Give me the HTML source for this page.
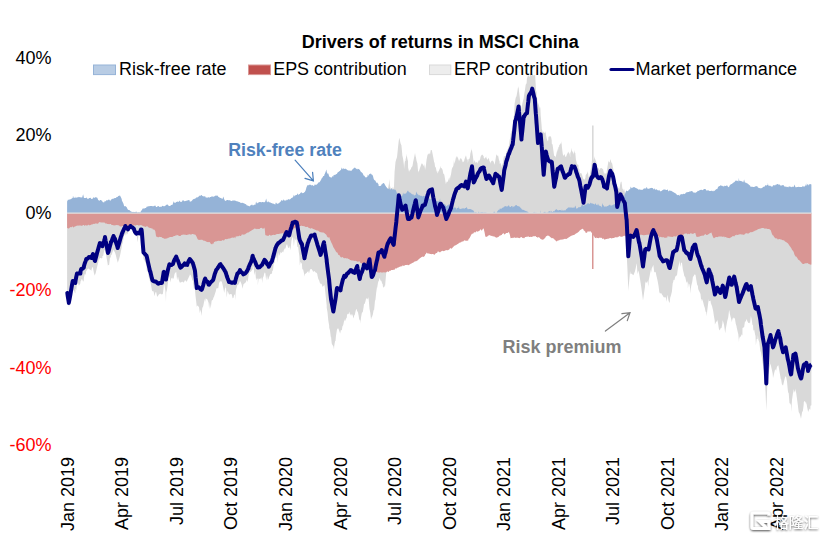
<!DOCTYPE html>
<html><head><meta charset="utf-8"><title>Drivers of returns in MSCI China</title>
<style>
html,body{margin:0;padding:0;background:#fff;}
body{width:825px;height:538px;overflow:hidden;font-family:"Liberation Sans","Noto Sans CJK SC",sans-serif;}
svg{display:block}
.ax{font-size:18px;font-family:"Liberation Sans",sans-serif;}
.lg{font-size:18px;font-family:"Liberation Sans",sans-serif;fill:#000}
</style></head><body>
<svg width="825" height="538" viewBox="0 0 825 538">
<rect width="825" height="538" fill="#fff"/>
<path d="M67.1,299.8 L67.3,295.5 L67.9,301.2 L68.8,306.5 L68.8,307.3 L69.6,304.8 L70.5,298.8 L71.3,296.0 L72.1,290.9 L72.7,288.0 L73.0,291.2 L73.8,289.8 L74.7,292.4 L75.3,293.5 L75.5,288.6 L76.3,290.3 L77.0,282.3 L77.2,282.3 L78.0,282.7 L78.9,285.8 L79.7,284.5 L80.4,283.3 L80.5,281.6 L81.2,280.6 L81.4,279.2 L82.2,279.2 L83.1,281.8 L83.8,280.4 L83.9,277.9 L84.7,274.0 L85.6,274.8 L86.3,269.9 L86.4,271.3 L87.3,269.3 L88.1,268.8 L88.8,268.3 L88.9,268.9 L89.8,269.4 L90.6,269.9 L91.4,270.7 L91.5,269.5 L92.3,267.6 L93.0,267.0 L93.1,268.7 L94.0,273.3 L94.8,275.8 L95.0,274.8 L95.7,272.9 L96.5,269.6 L97.3,266.1 L98.2,262.7 L99.0,257.8 L99.9,259.9 L99.9,258.0 L100.7,258.1 L101.5,258.5 L102.4,257.7 L102.4,256.0 L103.2,255.7 L104.1,250.8 L104.9,249.9 L105.0,250.0 L105.7,252.1 L106.6,258.1 L107.4,262.3 L107.9,265.8 L108.3,265.0 L109.1,265.0 L109.9,258.2 L110.8,257.1 L110.9,253.9 L111.6,255.6 L112.5,252.0 L113.3,250.2 L113.5,249.4 L114.1,250.9 L115.0,252.4 L115.8,255.1 L116.7,258.7 L117.5,261.6 L117.7,262.8 L118.3,261.2 L119.2,258.5 L120.0,255.8 L120.9,251.2 L121.7,247.5 L121.9,244.9 L122.5,243.5 L123.4,239.3 L124.2,234.5 L125.1,235.5 L125.3,232.3 L125.9,235.8 L126.7,232.8 L127.6,234.6 L127.9,232.4 L128.4,230.9 L129.3,230.3 L130.1,229.8 L130.4,229.1 L130.9,228.7 L131.8,228.5 L132.6,229.2 L133.5,230.0 L133.8,230.8 L134.3,231.9 L135.1,233.7 L136.0,235.5 L136.4,236.0 L136.8,236.3 L137.7,242.3 L138.5,234.4 L138.9,234.9 L139.3,236.1 L140.2,233.7 L141.0,233.0 L141.5,234.0 L141.9,238.7 L142.7,249.6 L143.5,258.8 L143.5,259.2 L144.4,260.1 L145.2,262.6 L146.1,263.8 L146.5,264.6 L146.9,272.2 L147.7,270.1 L148.6,276.3 L149.4,278.8 L149.9,281.1 L150.3,281.7 L151.1,285.2 L151.9,290.2 L152.5,291.4 L152.8,291.1 L153.6,291.5 L154.5,296.3 L155.3,292.7 L156.1,291.8 L157.0,296.1 L157.8,296.7 L158.4,295.1 L158.7,294.7 L159.5,294.0 L160.3,293.6 L161.2,294.6 L161.8,293.9 L162.0,294.4 L162.9,293.8 L163.7,286.9 L163.9,283.4 L164.5,285.2 L165.4,290.7 L166.0,302.3 L166.2,292.6 L167.1,289.3 L167.9,282.9 L168.7,278.5 L169.4,275.9 L169.6,276.4 L170.4,282.5 L171.3,277.7 L172.1,278.7 L172.8,277.2 L172.9,279.5 L173.8,277.7 L174.6,273.8 L175.5,272.6 L176.2,271.9 L176.3,272.3 L177.1,280.2 L178.0,276.5 L178.8,280.0 L179.7,282.6 L180.5,282.6 L181.3,282.2 L182.2,281.6 L183.0,282.2 L183.9,282.5 L184.7,280.6 L185.5,280.3 L186.4,281.8 L187.2,281.0 L187.3,280.2 L188.1,278.8 L188.9,277.0 L189.7,275.3 L189.8,274.5 L190.6,274.9 L191.4,276.8 L192.3,280.3 L193.1,280.8 L193.2,289.4 L193.9,283.8 L194.8,287.5 L195.0,290.5 L195.6,296.8 L196.5,303.9 L196.7,306.8 L197.3,305.6 L198.1,306.1 L199.0,307.2 L199.8,313.0 L200.7,309.6 L201.5,316.1 L201.8,313.1 L202.3,308.0 L203.2,306.3 L204.0,302.3 L204.9,298.7 L205.2,301.9 L205.7,298.2 L206.5,299.1 L207.4,299.6 L208.2,301.8 L208.6,302.8 L209.1,309.3 L209.9,302.7 L210.7,308.7 L211.6,301.0 L212.4,299.4 L212.8,300.5 L213.3,297.9 L214.1,296.4 L214.9,293.9 L215.8,291.3 L216.2,289.2 L216.6,288.3 L217.5,288.3 L218.3,288.2 L219.1,283.1 L220.0,281.2 L220.5,281.5 L220.8,281.2 L221.7,281.5 L222.5,284.5 L223.3,288.0 L224.2,292.9 L225.0,288.2 L225.5,288.1 L225.9,285.4 L226.7,297.7 L227.5,290.8 L228.4,292.7 L229.0,294.5 L229.2,294.4 L230.1,294.3 L230.9,294.0 L231.7,294.2 L232.6,298.2 L233.4,298.1 L234.3,294.2 L234.9,294.9 L235.1,300.2 L235.9,290.2 L236.8,286.9 L237.4,284.8 L237.6,284.9 L238.5,284.4 L239.3,282.8 L240.0,280.6 L240.1,281.1 L241.0,282.7 L241.8,285.1 L242.7,288.7 L243.4,284.6 L243.5,284.3 L244.3,283.6 L245.2,282.9 L246.0,281.8 L246.9,279.5 L247.7,282.3 L248.5,276.0 L248.5,275.8 L249.4,272.6 L250.2,271.9 L251.1,271.6 L251.9,270.3 L252.7,269.0 L252.7,265.8 L253.6,267.0 L254.4,275.3 L255.3,271.0 L256.1,280.6 L256.9,278.0 L257.8,279.3 L257.8,285.8 L258.6,278.5 L259.5,278.9 L260.3,278.1 L261.1,279.9 L262.0,276.8 L262.0,283.2 L262.8,277.9 L263.7,276.1 L264.5,271.8 L264.6,273.4 L265.3,272.7 L266.2,280.5 L267.0,275.0 L267.9,280.0 L268.7,278.5 L268.8,277.8 L269.5,276.1 L270.4,274.0 L271.2,274.0 L272.1,273.2 L272.2,270.5 L272.9,270.9 L273.7,264.1 L274.6,262.4 L275.4,256.7 L275.6,258.1 L276.3,258.0 L277.1,253.3 L277.9,263.0 L278.2,256.0 L278.8,252.3 L279.6,255.9 L280.5,252.0 L281.3,253.0 L282.1,252.3 L283.0,251.3 L283.2,252.7 L283.8,250.2 L284.7,248.5 L285.5,248.4 L286.3,245.2 L286.6,244.4 L287.2,244.5 L288.0,247.5 L288.9,248.0 L289.2,248.1 L289.7,245.4 L290.5,250.6 L291.4,241.0 L292.2,238.0 L292.6,236.9 L293.1,237.6 L293.9,246.6 L294.7,238.1 L295.6,240.4 L296.4,238.6 L296.8,241.7 L297.3,247.3 L298.1,246.6 L298.9,252.9 L299.4,256.2 L299.8,265.5 L300.6,261.7 L301.5,263.3 L301.9,263.7 L302.3,269.2 L303.1,269.4 L304.0,273.3 L304.5,276.7 L304.8,274.6 L305.7,273.6 L306.5,273.0 L307.3,271.9 L307.8,271.5 L308.2,271.1 L309.0,273.6 L309.9,269.9 L310.7,269.0 L311.2,268.9 L311.5,269.1 L312.4,270.2 L313.2,272.0 L314.1,271.1 L314.6,271.3 L314.9,271.5 L315.7,272.6 L316.6,272.8 L317.3,274.1 L317.4,275.0 L318.3,278.9 L319.1,280.3 L319.9,282.9 L320.6,283.8 L320.8,283.8 L321.0,284.4 L321.6,283.6 L322.5,287.1 L323.3,285.4 L324.0,286.5 L324.1,284.7 L324.5,285.4 L325.0,289.2 L325.8,296.9 L326.7,305.2 L326.7,307.7 L327.5,312.2 L328.3,320.4 L329.2,325.8 L329.2,327.7 L330.0,330.5 L330.9,337.7 L331.0,336.3 L331.7,343.0 L331.8,343.7 L332.5,345.1 L333.3,346.3 L333.4,346.5 L334.0,349.4 L334.2,346.1 L335.1,341.0 L335.5,340.9 L335.9,336.6 L336.7,331.3 L337.0,329.6 L337.6,328.4 L338.4,328.6 L339.3,331.0 L340.1,333.6 L340.5,331.9 L340.9,329.8 L341.8,330.6 L342.6,325.3 L342.8,326.4 L343.5,323.8 L344.3,320.1 L344.5,321.6 L345.0,318.7 L345.1,321.3 L346.0,318.8 L346.8,317.6 L347.0,315.1 L347.7,313.7 L348.5,314.3 L349.3,311.6 L349.3,311.8 L350.2,315.2 L350.5,313.6 L351.0,316.1 L351.9,313.8 L352.7,315.4 L353.5,318.6 L353.6,318.3 L354.4,314.6 L354.7,315.4 L355.2,312.8 L356.1,309.2 L356.5,308.9 L356.9,309.9 L357.2,312.4 L357.7,310.7 L358.6,315.6 L359.4,320.7 L359.8,319.3 L360.2,320.5 L360.3,323.8 L361.1,317.1 L361.9,312.7 L362.8,311.9 L363.6,307.2 L363.8,305.5 L364.0,304.1 L364.5,303.9 L365.3,301.9 L366.1,298.5 L367.0,298.6 L367.4,299.6 L367.8,298.6 L368.2,297.3 L368.7,299.6 L369.5,308.8 L370.3,312.7 L371.0,319.4 L371.2,318.9 L371.7,317.0 L372.0,316.9 L372.9,314.2 L373.7,309.5 L374.0,310.7 L374.5,306.0 L375.0,300.6 L375.4,300.3 L376.2,292.4 L377.0,287.1 L377.1,288.3 L377.9,283.3 L378.5,281.0 L378.7,281.2 L379.6,278.3 L379.8,277.8 L380.4,280.6 L381.3,280.7 L381.8,282.3 L382.1,283.5 L382.7,284.0 L382.9,286.4 L383.8,287.8 L384.4,286.4 L384.6,284.9 L385.0,286.9 L385.5,281.1 L386.3,272.0 L386.4,273.1 L387.1,271.5 L387.8,188.5 L388.0,189.2 L388.0,188.4 L388.8,184.5 L389.5,179.1 L389.7,183.8 L390.3,187.3 L390.5,187.5 L390.6,188.7 L391.3,187.9 L392.2,189.0 L393.0,186.6 L393.7,188.9 L393.9,189.4 L394.0,186.4 L394.6,171.6 L394.7,170.7 L395.5,161.9 L396.3,159.0 L396.4,158.9 L397.0,157.0 L397.2,155.4 L398.1,146.5 L398.8,140.5 L398.9,140.0 L399.2,137.7 L399.7,139.5 L400.6,143.5 L401.4,145.2 L401.4,145.1 L402.2,153.4 L402.3,155.2 L403.1,158.8 L403.9,165.0 L404.0,169.3 L404.8,161.7 L405.6,160.4 L405.6,159.3 L406.5,155.5 L406.5,153.4 L407.3,158.6 L408.0,161.2 L408.1,167.4 L409.0,171.8 L409.0,172.0 L409.8,169.9 L410.7,169.6 L411.5,167.2 L412.3,166.3 L412.4,166.4 L413.2,161.7 L414.0,158.0 L414.9,153.8 L415.0,152.7 L415.7,156.9 L415.8,156.5 L416.5,160.5 L417.4,163.6 L418.2,173.0 L418.3,171.7 L419.1,170.7 L419.9,168.3 L420.7,166.1 L421.6,163.2 L422.4,164.4 L422.6,162.9 L423.3,166.4 L424.1,164.0 L424.9,168.3 L425.0,170.3 L425.8,166.1 L426.6,159.6 L427.5,155.1 L427.7,154.6 L428.3,154.3 L428.5,154.1 L429.1,152.9 L430.0,154.6 L430.8,150.0 L431.7,150.0 L432.0,150.9 L432.5,153.4 L433.3,157.4 L434.2,162.6 L434.5,162.4 L435.0,166.5 L435.3,167.1 L435.9,167.8 L436.7,172.3 L437.0,170.2 L437.5,173.0 L437.8,173.5 L438.4,171.6 L439.2,170.1 L440.1,167.7 L440.4,165.8 L440.9,168.5 L441.7,168.0 L442.6,170.1 L443.4,174.0 L443.8,173.8 L444.3,174.8 L445.1,179.6 L445.9,184.2 L446.3,182.7 L446.8,181.6 L447.6,182.0 L448.5,179.8 L448.9,178.2 L449.3,177.3 L450.0,180.9 L450.1,178.0 L450.6,175.8 L451.0,174.5 L451.8,169.1 L452.7,167.0 L452.9,166.9 L453.5,165.3 L454.0,159.2 L454.3,164.0 L455.2,161.0 L456.0,157.0 L456.3,156.2 L456.5,158.2 L456.9,156.0 L457.7,157.5 L458.4,159.1 L458.5,161.7 L458.7,159.4 L459.4,161.1 L460.2,157.8 L461.1,159.5 L461.6,158.7 L461.8,157.8 L461.9,159.5 L462.7,162.2 L463.6,162.1 L463.6,161.4 L464.3,160.4 L464.4,159.6 L465.3,157.1 L466.0,155.2 L466.1,155.8 L466.9,159.6 L467.7,159.6 L467.8,162.9 L468.0,162.2 L468.6,159.0 L469.5,158.7 L470.0,156.7 L470.3,153.7 L471.1,150.7 L471.8,149.4 L472.0,147.7 L472.0,150.6 L472.8,155.4 L473.7,162.4 L473.7,161.6 L473.8,163.2 L474.5,160.1 L475.3,162.0 L475.7,162.9 L476.2,162.2 L477.0,162.2 L477.0,161.4 L477.6,163.8 L477.9,162.4 L478.7,160.3 L479.5,160.8 L480.4,158.1 L480.5,156.4 L481.0,156.4 L481.2,155.5 L482.1,154.4 L482.9,155.2 L483.7,156.6 L483.8,158.0 L484.0,158.3 L484.6,158.7 L485.4,156.9 L486.3,158.4 L486.4,156.1 L487.1,160.0 L487.9,159.1 L488.8,157.9 L488.8,157.3 L489.0,158.8 L489.6,161.2 L490.5,162.4 L490.7,163.8 L491.3,161.1 L492.1,160.8 L492.7,160.4 L493.0,161.4 L493.2,161.1 L493.8,162.3 L494.6,164.7 L494.7,164.6 L495.5,159.6 L495.7,158.5 L496.3,154.6 L496.6,154.5 L497.2,156.2 L498.0,154.9 L498.9,159.4 L499.0,161.2 L499.5,160.1 L499.7,163.9 L500.5,162.8 L501.4,166.3 L501.7,167.4 L501.9,164.3 L502.2,164.9 L503.1,162.6 L503.8,155.7 L503.9,158.0 L504.2,155.7 L504.7,156.2 L505.6,155.8 L506.0,154.0 L506.3,154.6 L506.4,151.8 L507.3,150.0 L508.1,148.5 L508.2,149.5 L508.5,146.3 L508.9,146.2 L509.8,139.6 L510.6,136.6 L510.6,134.3 L511.5,131.0 L512.3,130.4 L512.7,128.8 L513.0,125.9 L513.1,121.2 L514.0,115.0 L514.8,101.3 L515.0,103.3 L515.2,100.4 L515.7,97.8 L516.5,96.3 L517.3,91.8 L518.2,86.0 L518.4,88.3 L518.6,87.3 L519.0,91.2 L519.9,98.5 L520.7,107.2 L521.0,110.0 L521.5,107.2 L521.5,107.6 L522.4,103.2 L523.2,100.0 L523.7,98.3 L524.1,95.1 L524.6,92.0 L524.9,90.3 L525.7,84.8 L526.6,83.3 L527.0,77.8 L527.4,77.4 L528.0,74.9 L528.3,75.3 L528.8,76.1 L529.1,77.2 L529.9,76.0 L530.8,72.4 L531.6,76.0 L532.2,74.2 L532.5,73.6 L533.3,75.4 L534.1,75.3 L534.8,75.2 L535.0,74.3 L535.0,73.0 L535.8,86.6 L536.0,90.4 L536.5,91.7 L536.7,95.7 L537.5,101.2 L538.0,102.4 L538.3,103.4 L539.2,106.3 L540.0,108.8 L540.3,106.4 L540.7,115.8 L540.9,117.6 L541.7,127.0 L541.8,128.7 L542.0,129.2 L542.5,132.2 L543.4,131.5 L543.7,132.5 L544.2,132.5 L545.1,133.2 L545.8,131.0 L545.9,134.5 L546.7,138.4 L547.6,141.0 L547.6,141.6 L548.3,140.2 L548.4,137.3 L549.3,135.8 L550.0,137.6 L550.1,136.7 L550.9,136.0 L551.7,140.3 L551.8,143.7 L552.4,144.2 L552.6,144.8 L553.5,151.2 L554.2,156.6 L554.3,155.7 L555.1,156.1 L556.0,157.4 L556.0,155.7 L556.8,151.9 L557.7,148.2 L557.7,152.4 L558.5,146.4 L559.0,147.3 L559.3,144.9 L560.2,144.3 L561.0,142.8 L561.0,144.7 L561.5,140.9 L561.9,147.1 L562.7,153.5 L562.9,154.5 L563.5,155.9 L564.4,154.0 L564.8,155.0 L565.2,156.6 L565.8,157.0 L566.1,156.7 L566.9,154.6 L567.7,152.9 L568.2,151.5 L568.6,152.4 L569.4,153.6 L569.7,154.3 L570.2,157.5 L570.3,153.3 L571.1,151.1 L571.8,147.8 L571.9,150.2 L572.0,150.7 L572.8,152.3 L573.6,154.8 L573.6,153.5 L574.5,150.1 L574.5,152.3 L575.3,153.1 L576.0,160.5 L576.1,160.2 L577.0,163.9 L577.8,164.8 L578.4,164.8 L578.7,169.6 L579.4,169.0 L579.5,172.0 L580.3,173.2 L580.9,173.2 L581.2,172.9 L582.0,174.7 L582.9,177.7 L583.3,178.7 L583.5,179.3 L583.7,179.1 L584.5,179.8 L585.4,177.9 L585.7,175.1 L586.2,174.6 L587.1,173.2 L587.4,171.1 L587.9,173.5 L588.0,172.6 L588.7,177.7 L589.1,176.3 L589.6,175.9 L590.4,171.2 L591.0,168.0 L591.3,167.2 L592.0,159.5 L592.1,159.0 L592.9,158.5 L593.0,158.8 L593.8,160.8 L594.6,155.7 L594.6,157.0 L594.9,158.4 L595.5,160.1 L596.3,162.1 L596.6,165.1 L597.1,164.9 L597.3,168.3 L598.0,168.2 L598.8,168.3 L598.8,168.7 L599.7,170.3 L600.5,167.9 L601.3,168.1 L601.7,168.2 L602.2,168.7 L603.0,168.9 L603.9,172.9 L604.0,174.9 L604.7,172.5 L605.5,173.7 L606.4,173.5 L606.5,173.6 L607.0,169.2 L607.2,168.6 L608.1,163.3 L608.5,160.6 L608.9,161.9 L609.7,162.5 L610.4,158.9 L610.6,159.7 L611.4,162.5 L612.3,163.7 L612.4,164.8 L613.1,168.2 L613.9,172.6 L614.3,177.3 L614.8,179.7 L615.6,183.3 L616.3,187.7 L616.5,189.0 L617.2,186.7 L617.3,189.5 L618.1,187.8 L619.0,188.5 L619.2,189.8 L619.8,186.9 L620.6,181.2 L620.7,184.0 L620.9,182.0 L621.5,181.6 L622.3,188.3 L623.0,189.4 L623.2,191.3 L624.0,188.6 L624.9,192.7 L624.9,192.2 L625.0,192.4 L625.7,242.9 L626.5,254.4 L626.6,252.7 L627.4,268.6 L628.2,287.6 L628.3,291.1 L629.1,282.1 L629.9,273.3 L630.0,271.0 L630.7,274.3 L631.6,273.4 L632.4,274.4 L633.3,275.1 L633.4,275.5 L634.1,273.6 L634.9,271.6 L635.8,267.8 L636.6,263.7 L636.8,263.6 L637.5,274.2 L638.3,270.5 L639.1,273.5 L639.3,274.7 L640.0,279.0 L640.8,284.0 L641.7,290.2 L642.5,296.6 L643.0,300.4 L643.3,298.5 L644.2,292.0 L645.0,286.7 L645.2,283.5 L645.9,281.2 L646.7,283.3 L647.5,280.7 L648.4,286.8 L648.6,280.7 L649.2,278.0 L650.1,273.4 L650.9,269.6 L651.2,272.8 L651.7,268.6 L652.6,266.7 L653.4,264.8 L653.4,265.4 L654.3,272.5 L655.1,271.7 L655.9,272.8 L656.3,275.3 L656.8,277.2 L657.6,280.8 L658.5,285.7 L659.3,292.1 L659.7,293.1 L660.1,293.7 L661.0,292.8 L661.8,294.2 L662.7,295.6 L663.0,296.1 L663.5,297.1 L664.3,297.6 L665.2,297.1 L666.0,298.1 L666.9,301.7 L667.3,294.7 L667.7,295.9 L668.5,300.5 L669.4,302.9 L669.8,301.8 L670.2,297.8 L671.1,295.1 L671.9,291.4 L672.7,283.3 L673.2,282.0 L673.6,279.7 L674.4,280.3 L675.3,276.5 L676.1,275.9 L676.6,275.1 L676.9,276.1 L677.8,269.1 L678.6,265.5 L679.2,263.0 L679.5,260.2 L680.3,267.0 L681.1,262.2 L681.7,263.1 L682.0,263.0 L682.8,269.3 L683.7,272.9 L684.3,275.9 L684.5,276.2 L685.3,277.3 L686.2,281.4 L687.0,283.0 L687.7,281.1 L687.9,288.4 L688.7,283.2 L689.5,284.6 L690.2,288.4 L690.4,293.7 L691.2,285.9 L692.1,282.6 L692.6,279.6 L692.9,277.0 L693.7,275.9 L694.6,274.3 L695.2,274.9 L695.4,274.2 L696.3,279.8 L697.1,284.6 L697.9,286.1 L698.2,288.9 L698.8,290.5 L699.6,292.0 L700.5,293.9 L701.3,301.8 L701.5,299.1 L702.1,299.3 L703.0,301.5 L703.8,304.7 L704.7,307.8 L704.7,307.3 L705.5,311.5 L706.3,312.3 L706.7,316.2 L707.2,311.0 L708.0,304.5 L708.8,298.7 L708.9,301.2 L709.7,301.1 L710.5,300.6 L711.3,306.6 L711.4,303.2 L712.2,306.7 L713.1,310.6 L713.9,316.1 L714.7,320.5 L714.9,324.6 L715.6,323.1 L716.4,321.3 L717.0,321.7 L717.3,319.6 L718.1,323.5 L718.9,329.1 L719.8,330.4 L720.3,328.9 L720.6,328.2 L721.5,328.0 L722.3,324.0 L722.7,320.3 L723.1,321.6 L724.0,324.6 L724.8,330.2 L725.2,333.2 L725.7,329.5 L726.5,325.1 L727.3,320.7 L728.2,317.6 L729.0,311.1 L729.3,309.9 L729.9,314.0 L730.7,317.2 L731.5,320.2 L731.7,322.2 L732.4,319.2 L733.2,317.3 L734.1,318.9 L734.2,317.8 L734.9,318.5 L735.7,323.4 L736.6,326.6 L736.6,327.0 L737.4,330.6 L738.3,334.2 L739.0,342.6 L739.1,338.9 L739.9,336.4 L740.8,336.8 L741.6,334.3 L742.4,335.6 L742.5,328.1 L743.3,327.5 L744.1,327.3 L745.0,321.3 L745.8,321.8 L746.5,318.7 L746.7,319.6 L747.5,321.6 L748.3,323.1 L748.6,323.1 L749.2,322.5 L750.0,323.4 L750.9,315.5 L750.9,315.9 L751.7,319.4 L752.5,325.3 L753.0,324.8 L753.4,330.8 L754.2,329.8 L755.1,334.4 L755.5,336.0 L755.9,345.3 L756.7,338.9 L757.6,339.1 L757.9,335.2 L758.4,339.7 L759.3,342.3 L760.1,348.9 L760.4,351.0 L760.9,352.2 L761.8,357.1 L762.6,362.9 L762.8,363.7 L763.5,368.8 L764.3,371.5 L764.5,373.3 L765.1,384.6 L765.6,393.5 L766.0,403.0 L766.3,410.4 L766.8,398.3 L767.7,373.9 L767.7,374.1 L768.5,373.7 L769.3,369.1 L770.2,364.8 L770.5,363.4 L771.0,366.0 L771.9,370.0 L772.7,373.8 L773.0,378.0 L773.5,375.9 L774.4,372.3 L775.2,369.1 L775.4,369.4 L776.1,370.8 L776.9,367.1 L777.7,365.8 L778.4,365.2 L778.6,366.3 L779.4,371.2 L780.3,376.0 L780.8,379.2 L781.1,378.9 L781.9,384.3 L782.8,385.2 L783.0,385.8 L783.6,383.2 L784.5,379.3 L785.3,376.2 L785.7,376.7 L786.1,376.8 L787.0,381.6 L787.8,390.1 L788.2,392.6 L788.7,393.2 L789.5,403.2 L790.3,403.4 L791.0,405.3 L791.2,412.0 L792.0,400.0 L792.9,393.4 L793.4,391.8 L793.7,389.1 L794.5,392.8 L795.4,388.5 L795.5,390.4 L796.2,392.7 L797.1,399.5 L797.9,405.4 L798.0,406.6 L798.7,412.1 L799.6,413.6 L800.4,416.3 L801.0,418.7 L801.3,417.0 L802.1,412.2 L802.9,410.8 L803.7,404.5 L803.8,401.9 L804.6,401.0 L805.5,402.1 L806.2,404.2 L806.3,402.1 L807.1,406.9 L808.0,411.2 L808.0,412.3 L808.8,410.2 L809.7,408.4 L810.3,409.9 L810.5,405.8 L811.4,405.3 L811.4,213.1 L67.1,213.1Z" fill="#d9d9d9"/>
<rect x="592" y="125.5" width="1.6" height="40" fill="#d9d9d9"/>
<path d="M67.1,228.3 L67.3,228.3 L67.9,228.1 L68.8,228.7 L68.8,228.7 L69.6,227.8 L70.5,227.0 L71.3,227.3 L72.1,227.1 L72.7,225.9 L73.0,227.5 L73.8,227.3 L74.7,226.5 L75.3,226.4 L75.5,226.3 L76.3,226.1 L77.0,225.5 L77.2,225.5 L78.0,225.7 L78.9,225.4 L79.7,225.4 L80.4,225.4 L80.5,225.4 L81.2,225.7 L81.4,225.7 L82.2,225.7 L83.1,225.0 L83.8,224.9 L83.9,224.9 L84.7,226.0 L85.6,224.9 L86.3,225.6 L86.4,225.6 L87.3,225.5 L88.1,224.9 L88.8,224.6 L88.9,225.2 L89.8,225.2 L90.6,224.9 L91.4,224.6 L91.5,224.6 L92.3,224.4 L93.0,224.0 L93.1,224.0 L94.0,223.8 L94.8,224.0 L95.0,223.6 L95.7,223.5 L96.5,223.4 L97.3,223.7 L98.2,223.5 L99.0,222.3 L99.9,222.1 L99.9,222.4 L100.7,222.2 L101.5,222.4 L102.4,222.5 L102.4,222.5 L103.2,222.4 L104.1,222.6 L104.9,222.8 L105.0,223.3 L105.7,223.4 L106.6,223.6 L107.4,224.0 L107.9,224.0 L108.3,224.1 L109.1,224.3 L109.9,223.9 L110.8,224.0 L110.9,224.0 L111.6,225.0 L112.5,225.1 L113.3,225.2 L113.5,225.3 L114.1,225.4 L115.0,225.2 L115.8,225.3 L116.7,225.0 L117.5,225.1 L117.7,225.2 L118.3,225.3 L119.2,225.4 L120.0,226.6 L120.9,226.4 L121.7,226.4 L121.9,225.9 L122.5,225.9 L123.4,225.9 L124.2,225.3 L125.1,225.3 L125.3,225.3 L125.9,226.1 L126.7,226.1 L127.6,226.1 L127.9,225.6 L128.4,226.2 L129.3,225.3 L130.1,225.3 L130.4,225.3 L130.9,225.6 L131.8,225.6 L132.6,225.6 L133.5,225.2 L133.8,225.2 L134.3,225.2 L135.1,225.5 L136.0,225.5 L136.4,224.9 L136.8,224.9 L137.7,224.9 L138.5,225.4 L138.9,225.4 L139.3,225.4 L140.2,225.0 L141.0,225.2 L141.5,225.3 L141.9,225.2 L142.7,226.1 L143.5,226.3 L143.5,226.3 L144.4,226.4 L145.2,226.7 L146.1,226.9 L146.5,226.1 L146.9,226.2 L147.7,226.4 L148.6,227.5 L149.4,227.8 L149.9,228.0 L150.3,228.1 L151.1,228.3 L151.9,228.5 L152.5,228.6 L152.8,229.4 L153.6,229.6 L154.5,229.7 L155.3,231.3 L156.1,236.6 L157.0,236.7 L157.8,237.2 L158.4,237.3 L158.7,237.3 L159.5,236.8 L160.3,237.0 L161.2,237.1 L161.8,237.3 L162.0,237.7 L162.9,238.0 L163.7,238.2 L163.9,238.5 L164.5,238.7 L165.4,238.7 L166.0,238.5 L166.2,238.6 L167.1,238.4 L167.9,237.7 L168.7,237.8 L169.4,237.6 L169.6,237.1 L170.4,236.9 L171.3,237.1 L172.1,236.9 L172.8,236.7 L172.9,236.7 L173.8,236.1 L174.6,235.9 L175.5,235.7 L176.2,234.4 L176.3,235.4 L177.1,235.2 L178.0,235.0 L178.8,236.1 L179.7,236.0 L180.5,236.0 L181.3,234.9 L182.2,234.8 L183.0,234.8 L183.9,234.5 L184.7,234.8 L185.5,234.8 L186.4,235.1 L187.2,235.1 L187.3,234.8 L188.1,234.5 L188.9,234.5 L189.7,234.0 L189.8,234.4 L190.6,234.4 L191.4,234.4 L192.3,234.0 L193.1,233.9 L193.2,233.9 L193.9,234.5 L194.8,234.5 L195.0,234.5 L195.6,234.9 L196.5,236.4 L196.7,237.1 L197.3,238.6 L198.1,239.8 L199.0,239.8 L199.8,239.9 L200.7,239.8 L201.5,239.7 L201.8,239.8 L202.3,239.8 L203.2,240.6 L204.0,240.7 L204.9,240.8 L205.2,240.9 L205.7,241.2 L206.5,241.7 L207.4,242.1 L208.2,242.3 L208.6,241.9 L209.1,242.1 L209.9,242.2 L210.7,243.8 L211.6,244.2 L212.4,244.2 L212.8,243.3 L213.3,244.1 L214.1,242.1 L214.9,241.7 L215.8,241.3 L216.2,241.5 L216.6,241.2 L217.5,241.0 L218.3,240.8 L219.1,240.7 L220.0,241.0 L220.5,240.8 L220.8,240.9 L221.7,240.8 L222.5,240.1 L223.3,240.4 L224.2,240.2 L225.0,239.2 L225.5,239.1 L225.9,239.1 L226.7,239.2 L227.5,239.0 L228.4,238.5 L229.0,238.7 L229.2,238.6 L230.1,238.4 L230.9,238.1 L231.7,237.8 L232.6,237.6 L233.4,237.7 L234.3,237.4 L234.9,237.3 L235.1,238.5 L235.9,236.3 L236.8,236.5 L237.4,236.3 L237.6,236.2 L238.5,236.3 L239.3,235.8 L240.0,235.6 L240.1,236.1 L241.0,235.9 L241.8,234.6 L242.7,234.4 L243.4,234.2 L243.5,234.9 L244.3,234.6 L245.2,234.3 L246.0,233.5 L246.9,232.9 L247.7,232.4 L248.5,232.6 L248.5,232.5 L249.4,231.7 L250.2,231.2 L251.1,230.7 L251.9,230.2 L252.7,229.7 L252.7,229.7 L253.6,229.2 L254.4,228.6 L255.3,228.8 L256.1,228.7 L256.9,229.3 L257.8,228.8 L257.8,228.8 L258.6,229.0 L259.5,228.9 L260.3,228.0 L261.1,227.9 L262.0,227.7 L262.0,228.5 L262.8,228.5 L263.7,228.4 L264.5,228.3 L264.6,227.0 L265.3,235.0 L266.2,235.6 L267.0,235.5 L267.9,236.1 L268.7,236.0 L268.8,234.9 L269.5,234.8 L270.4,235.5 L271.2,235.4 L272.1,235.3 L272.2,234.9 L272.9,234.9 L273.7,234.8 L274.6,235.1 L275.4,234.9 L275.6,234.4 L276.3,234.3 L277.1,234.0 L277.9,233.9 L278.2,234.0 L278.8,233.9 L279.6,233.7 L280.5,233.5 L281.3,233.4 L282.1,233.2 L283.0,233.0 L283.2,233.7 L283.8,233.6 L284.7,232.8 L285.5,232.3 L286.3,231.8 L286.6,231.8 L287.2,232.1 L288.0,231.7 L288.9,230.2 L289.2,230.0 L289.7,230.8 L290.5,230.5 L291.4,230.1 L292.2,229.7 L292.6,229.7 L293.1,229.5 L293.9,228.4 L294.7,227.9 L295.6,227.4 L296.4,227.1 L296.8,227.3 L297.3,227.1 L298.1,227.3 L298.9,226.4 L299.4,226.3 L299.8,226.1 L300.6,225.9 L301.5,225.6 L301.9,226.0 L302.3,226.1 L303.1,226.1 L304.0,226.3 L304.5,226.3 L304.8,226.4 L305.7,226.9 L306.5,226.9 L307.3,226.7 L307.8,226.9 L308.2,227.6 L309.0,227.9 L309.9,228.3 L310.7,228.7 L311.2,228.1 L311.5,228.3 L312.4,228.6 L313.2,228.9 L314.1,229.2 L314.6,229.4 L314.9,229.7 L315.7,230.0 L316.6,230.4 L317.3,230.4 L317.4,230.5 L318.3,230.8 L319.1,231.6 L319.9,231.9 L320.6,232.1 L320.8,232.4 L321.0,232.5 L321.6,232.3 L322.5,232.6 L323.3,232.6 L324.0,232.8 L324.1,233.3 L324.5,233.0 L325.0,233.8 L325.8,234.3 L326.7,235.2 L326.7,236.0 L327.5,236.9 L328.3,237.7 L329.2,237.1 L329.2,237.1 L330.0,239.4 L330.9,241.4 L331.0,241.8 L331.7,243.4 L331.8,243.3 L332.5,245.1 L333.3,246.9 L333.4,247.2 L334.0,248.2 L334.2,248.5 L335.1,250.1 L335.5,250.7 L335.9,251.4 L336.7,252.5 L337.0,252.2 L337.6,253.0 L338.4,254.9 L339.3,255.1 L340.1,256.3 L340.5,257.0 L340.9,257.2 L341.8,257.4 L342.6,257.0 L342.8,257.1 L343.5,257.9 L344.3,258.2 L344.5,257.9 L345.0,258.6 L345.1,258.0 L346.0,258.2 L346.8,258.5 L347.0,258.2 L347.7,258.6 L348.5,258.9 L349.3,259.1 L349.3,259.6 L350.2,259.9 L350.5,260.1 L351.0,260.2 L351.9,260.4 L352.7,260.6 L353.5,260.3 L353.6,261.0 L354.4,261.1 L354.7,260.7 L355.2,260.8 L356.1,261.1 L356.5,261.2 L356.9,261.3 L357.2,261.8 L357.7,261.5 L358.6,261.6 L359.4,261.3 L359.8,261.5 L360.2,262.8 L360.3,262.9 L361.1,263.1 L361.9,263.5 L362.8,264.0 L363.6,265.2 L363.8,264.5 L364.0,265.2 L364.5,265.4 L365.3,266.0 L366.1,266.3 L367.0,266.8 L367.4,268.0 L367.8,268.3 L368.2,268.5 L368.7,267.0 L369.5,268.3 L370.3,268.8 L371.0,269.2 L371.2,269.6 L371.7,269.9 L372.0,269.5 L372.9,270.0 L373.7,270.5 L374.0,270.6 L374.5,270.9 L375.0,272.0 L375.4,271.5 L376.2,271.9 L377.0,272.3 L377.1,272.3 L377.9,272.3 L378.5,272.6 L378.7,272.6 L379.6,272.8 L379.8,272.1 L380.4,272.3 L381.3,272.6 L381.8,272.5 L382.1,272.4 L382.7,272.5 L382.9,272.5 L383.8,272.3 L384.4,272.2 L384.6,272.6 L385.0,272.5 L385.5,272.4 L386.3,272.0 L386.4,272.0 L387.1,271.5 L387.8,271.4 L388.0,271.4 L388.0,271.9 L388.8,271.7 L389.5,270.8 L389.7,270.8 L390.3,270.8 L390.5,270.8 L390.6,270.8 L391.3,270.1 L392.2,270.1 L393.0,269.9 L393.7,269.5 L393.9,270.2 L394.0,270.1 L394.6,269.5 L394.7,269.4 L395.5,268.3 L396.3,268.6 L396.4,268.6 L397.0,268.2 L397.2,268.0 L398.1,267.3 L398.8,267.5 L398.9,267.4 L399.2,267.0 L399.7,266.7 L400.6,266.4 L401.4,266.0 L401.4,266.4 L402.2,266.2 L402.3,265.6 L403.1,265.4 L403.9,265.9 L404.0,265.9 L404.8,265.2 L405.6,265.1 L405.6,265.1 L406.5,264.9 L406.5,264.9 L407.3,264.8 L408.0,265.3 L408.1,265.2 L409.0,265.1 L409.0,264.7 L409.8,264.5 L410.7,263.8 L411.5,263.4 L412.3,263.0 L412.4,263.0 L413.2,262.6 L414.0,262.3 L414.9,261.2 L415.0,261.1 L415.7,261.6 L415.8,261.6 L416.5,260.9 L417.4,260.5 L418.2,260.0 L418.3,259.5 L419.1,258.9 L419.9,258.2 L420.7,257.7 L421.6,257.1 L422.4,257.1 L422.6,256.2 L423.3,257.0 L424.1,256.4 L424.9,255.7 L425.0,254.4 L425.8,254.3 L426.6,252.5 L427.5,253.4 L427.7,253.5 L428.3,253.5 L428.5,253.4 L429.1,253.5 L430.0,254.0 L430.8,254.1 L431.7,254.2 L432.0,254.1 L432.5,253.9 L433.3,254.0 L434.2,254.9 L434.5,254.8 L435.0,254.0 L435.3,253.9 L435.9,253.1 L436.7,252.9 L437.0,253.2 L437.5,251.7 L437.8,251.6 L438.4,251.4 L439.2,252.1 L440.1,252.5 L440.4,251.7 L440.9,251.8 L441.7,251.0 L442.6,250.7 L443.4,251.2 L443.8,251.1 L444.3,251.0 L445.1,250.5 L445.9,250.2 L446.3,250.0 L446.8,250.3 L447.6,250.3 L448.5,250.1 L448.9,249.6 L449.3,249.5 L450.0,248.3 L450.1,248.2 L450.6,248.1 L451.0,248.8 L451.8,248.5 L452.7,247.5 L452.9,247.3 L453.5,246.7 L454.0,246.1 L454.3,245.7 L455.2,245.5 L456.0,245.0 L456.3,244.9 L456.5,244.7 L456.9,244.6 L457.7,244.1 L458.4,243.7 L458.5,243.3 L458.7,243.2 L459.4,242.8 L460.2,242.6 L461.1,242.2 L461.6,241.8 L461.8,241.5 L461.9,241.4 L462.7,241.5 L463.6,241.3 L463.6,240.9 L464.3,240.3 L464.4,240.3 L465.3,240.7 L466.0,240.5 L466.1,240.9 L466.9,240.6 L467.7,240.5 L467.8,241.2 L468.0,241.1 L468.6,239.0 L469.5,238.2 L470.0,237.2 L470.3,236.7 L471.1,235.0 L471.8,233.9 L472.0,233.6 L472.0,234.0 L472.8,233.6 L473.7,233.2 L473.7,232.7 L473.8,232.6 L474.5,232.3 L475.3,232.3 L475.7,232.4 L476.2,231.5 L477.0,231.1 L477.0,231.3 L477.6,231.8 L477.9,231.7 L478.7,231.1 L479.5,230.8 L480.4,229.4 L480.5,229.4 L481.0,229.2 L481.2,230.6 L482.1,230.3 L482.9,228.8 L483.7,228.5 L483.8,228.9 L484.0,229.9 L484.6,232.5 L485.4,236.7 L486.3,236.6 L486.4,237.1 L487.1,236.8 L487.9,235.8 L488.8,235.4 L488.8,235.4 L489.0,235.1 L489.6,235.2 L490.5,235.6 L490.7,235.7 L491.3,235.8 L492.1,236.2 L492.7,236.3 L493.0,235.6 L493.2,236.7 L493.8,236.3 L494.6,236.4 L494.7,237.0 L495.5,237.2 L495.7,237.2 L496.3,237.6 L496.6,237.7 L497.2,237.4 L498.0,237.1 L498.9,236.8 L499.0,236.3 L499.5,236.0 L499.7,235.4 L500.5,235.6 L501.4,235.1 L501.7,234.9 L501.9,234.8 L502.2,233.9 L503.1,233.5 L503.8,233.1 L503.9,234.1 L504.2,234.5 L504.7,234.2 L505.6,233.8 L506.0,233.1 L506.3,233.0 L506.4,233.0 L507.3,233.0 L508.1,232.7 L508.2,232.7 L508.5,232.0 L508.9,231.9 L509.8,234.6 L510.6,238.2 L510.6,238.2 L511.5,238.1 L512.3,237.9 L512.7,237.5 L513.0,238.4 L513.1,238.0 L514.0,237.6 L514.8,237.6 L515.0,237.6 L515.2,237.9 L515.7,237.7 L516.5,237.7 L517.3,237.6 L518.2,237.9 L518.4,237.8 L518.6,237.8 L519.0,238.2 L519.9,238.1 L520.7,237.2 L521.0,236.9 L521.5,236.9 L521.5,236.9 L522.4,237.9 L523.2,237.8 L523.7,238.2 L524.1,238.2 L524.6,238.1 L524.9,236.9 L525.7,236.9 L526.6,236.8 L527.0,236.7 L527.4,236.7 L528.0,236.5 L528.3,236.5 L528.8,236.5 L529.1,236.9 L529.9,236.9 L530.8,236.7 L531.6,237.1 L532.2,237.1 L532.5,236.4 L533.3,236.3 L534.1,236.3 L534.8,236.3 L535.0,236.3 L535.0,236.3 L535.8,236.0 L536.0,237.1 L536.5,237.0 L536.7,237.0 L537.5,237.4 L538.0,237.8 L538.3,237.1 L539.2,237.5 L540.0,237.9 L540.3,239.0 L540.7,238.7 L540.9,239.0 L541.7,239.4 L541.8,239.5 L542.0,239.5 L542.5,239.8 L543.4,239.6 L543.7,239.3 L544.2,238.8 L545.1,238.0 L545.8,236.7 L545.9,236.6 L546.7,236.1 L547.6,235.4 L547.6,235.4 L548.3,235.9 L548.4,235.6 L549.3,236.1 L550.0,237.0 L550.1,237.1 L550.9,237.5 L551.7,238.4 L551.8,237.7 L552.4,238.1 L552.6,238.2 L553.5,238.5 L554.2,238.9 L554.3,239.4 L555.1,239.9 L556.0,240.9 L556.0,240.9 L556.8,241.4 L557.7,240.6 L557.7,240.6 L558.5,240.4 L559.0,240.3 L559.3,240.2 L560.2,239.5 L561.0,240.0 L561.0,240.1 L561.5,239.6 L561.9,239.5 L562.7,239.5 L562.9,239.5 L563.5,239.3 L564.4,238.9 L564.8,238.8 L565.2,238.7 L565.8,239.0 L566.1,238.9 L566.9,238.7 L567.7,237.9 L568.2,237.7 L568.6,237.6 L569.4,237.0 L569.7,236.8 L570.2,236.6 L570.3,236.3 L571.1,235.9 L571.8,235.5 L571.9,235.4 L572.0,235.5 L572.8,235.3 L573.6,234.9 L573.6,234.9 L574.5,234.7 L574.5,234.7 L575.3,234.1 L576.0,233.5 L576.1,233.4 L577.0,233.1 L577.8,232.5 L578.4,232.1 L578.7,231.7 L579.4,231.1 L579.5,230.7 L580.3,230.1 L580.9,229.8 L581.2,229.6 L582.0,229.0 L582.9,228.7 L583.3,229.1 L583.5,230.7 L583.7,230.0 L584.5,230.9 L585.4,231.7 L585.7,232.9 L586.2,232.8 L587.1,232.7 L587.4,231.5 L587.9,231.4 L588.0,231.4 L588.7,231.5 L589.1,231.6 L589.6,231.4 L590.4,231.2 L591.0,231.7 L591.3,232.2 L592.0,233.3 L592.1,233.6 L592.9,234.5 L593.0,234.9 L593.8,236.1 L594.6,236.9 L594.6,237.3 L594.9,237.7 L595.5,238.1 L596.3,238.3 L596.6,237.2 L597.1,237.9 L597.3,237.9 L598.0,238.0 L598.8,238.3 L598.8,238.3 L599.7,237.6 L600.5,237.7 L601.3,237.9 L601.7,237.5 L602.2,238.9 L603.0,238.6 L603.9,238.8 L604.0,239.4 L604.7,239.5 L605.5,239.3 L606.4,239.1 L606.5,239.1 L607.0,239.0 L607.2,238.8 L608.1,238.7 L608.5,238.6 L608.9,238.7 L609.7,238.1 L610.4,238.0 L610.6,238.1 L611.4,238.5 L612.3,237.9 L612.4,238.2 L613.1,238.1 L613.9,237.9 L614.3,237.7 L614.8,237.4 L615.6,237.3 L616.3,236.9 L616.5,237.6 L617.2,237.5 L617.3,237.4 L618.1,236.6 L619.0,236.9 L619.2,236.2 L619.8,236.1 L620.6,236.8 L620.7,236.8 L620.9,236.8 L621.5,236.7 L622.3,236.7 L623.0,236.2 L623.2,236.2 L624.0,235.8 L624.9,235.7 L624.9,235.7 L625.0,236.3 L625.7,236.3 L626.5,236.0 L626.6,235.9 L627.4,235.9 L628.2,236.4 L628.3,236.0 L629.1,235.8 L629.9,235.8 L630.0,235.7 L630.7,236.2 L631.6,236.1 L632.4,236.0 L633.3,235.6 L633.4,235.6 L634.1,235.6 L634.9,235.2 L635.8,235.2 L636.6,235.7 L636.8,235.2 L637.5,235.1 L638.3,235.6 L639.1,235.5 L639.3,235.5 L640.0,234.8 L640.8,234.7 L641.7,234.7 L642.5,235.0 L643.0,235.0 L643.3,235.3 L644.2,235.3 L645.0,234.9 L645.2,234.9 L645.9,234.9 L646.7,234.8 L647.5,234.7 L648.4,234.8 L648.6,234.5 L649.2,234.6 L650.1,234.3 L650.9,234.2 L651.2,235.1 L651.7,233.9 L652.6,233.9 L653.4,234.7 L653.4,234.7 L654.3,234.4 L655.1,235.3 L655.9,235.6 L656.3,235.8 L656.8,236.3 L657.6,235.7 L658.5,236.0 L659.3,237.5 L659.7,237.6 L660.1,236.7 L661.0,237.0 L661.8,237.2 L662.7,237.2 L663.0,237.6 L663.5,237.0 L664.3,237.8 L665.2,237.7 L666.0,237.7 L666.9,237.4 L667.3,237.4 L667.7,236.1 L668.5,236.5 L669.4,236.5 L669.8,236.7 L670.2,236.7 L671.1,236.7 L671.9,237.0 L672.7,237.0 L673.2,236.4 L673.6,236.4 L674.4,236.3 L675.3,236.6 L676.1,236.5 L676.6,235.8 L676.9,235.7 L677.8,235.5 L678.6,235.9 L679.2,235.8 L679.5,235.1 L680.3,235.8 L681.1,235.7 L681.7,235.6 L682.0,235.7 L682.8,235.5 L683.7,234.3 L684.3,233.7 L684.5,233.7 L685.3,233.5 L686.2,233.6 L687.0,233.5 L687.7,234.5 L687.9,233.9 L688.7,233.8 L689.5,234.3 L690.2,233.3 L690.4,233.3 L691.2,233.4 L692.1,233.6 L692.6,234.1 L692.9,234.0 L693.7,233.5 L694.6,233.1 L695.2,233.0 L695.4,233.3 L696.3,236.4 L697.1,236.9 L697.9,236.7 L698.2,236.7 L698.8,236.7 L699.6,236.6 L700.5,236.1 L701.3,236.0 L701.5,235.8 L702.1,235.6 L703.0,235.7 L703.8,235.6 L704.7,234.4 L704.7,234.4 L705.5,234.1 L706.3,234.9 L706.7,235.1 L707.2,235.0 L708.0,234.4 L708.8,234.1 L708.9,234.1 L709.7,233.2 L710.5,232.9 L711.3,232.6 L711.4,232.6 L712.2,235.0 L713.1,237.2 L713.9,238.2 L714.7,238.0 L714.9,237.3 L715.6,237.2 L716.4,237.1 L717.0,237.0 L717.3,237.2 L718.1,236.7 L718.9,236.6 L719.8,236.4 L720.3,236.6 L720.6,236.5 L721.5,236.4 L722.3,236.8 L722.7,236.8 L723.1,236.9 L724.0,236.3 L724.8,237.5 L725.2,236.9 L725.7,237.0 L726.5,237.5 L727.3,237.7 L728.2,237.9 L729.0,238.1 L729.3,238.2 L729.9,238.0 L730.7,237.6 L731.5,237.1 L731.7,237.0 L732.4,236.3 L733.2,236.0 L734.1,236.5 L734.2,236.5 L734.9,235.5 L735.7,235.1 L736.6,234.5 L736.6,235.2 L737.4,234.9 L738.3,234.7 L739.0,234.4 L739.1,234.4 L739.9,234.3 L740.8,234.3 L741.6,234.4 L742.4,234.3 L742.5,234.8 L743.3,234.8 L744.1,234.7 L745.0,233.9 L745.8,233.3 L746.5,233.3 L746.7,233.2 L747.5,233.4 L748.3,233.5 L748.6,233.4 L749.2,232.9 L750.0,232.5 L750.9,232.0 L750.9,232.0 L751.7,232.3 L752.5,231.9 L753.0,231.8 L753.4,231.6 L754.2,231.3 L755.1,230.6 L755.5,230.6 L755.9,230.4 L756.7,230.1 L757.6,229.4 L757.9,229.3 L758.4,229.1 L759.3,228.9 L760.1,228.2 L760.4,228.7 L760.9,228.5 L761.8,228.0 L762.6,227.9 L762.8,227.9 L763.5,228.1 L764.3,228.5 L764.5,228.5 L765.1,228.7 L765.6,228.4 L766.0,228.5 L766.3,228.5 L766.8,228.7 L767.7,228.9 L767.7,228.9 L768.5,228.9 L769.3,229.1 L770.2,230.1 L770.5,229.7 L771.0,231.0 L771.9,233.7 L772.7,235.4 L773.0,235.1 L773.5,235.9 L774.4,237.2 L775.2,238.2 L775.4,238.3 L776.1,238.4 L776.9,238.3 L777.7,239.6 L778.4,239.2 L778.6,239.2 L779.4,239.0 L780.3,239.2 L780.8,239.5 L781.1,239.6 L781.9,239.7 L782.8,240.2 L783.0,240.3 L783.6,240.3 L784.5,240.7 L785.3,241.9 L785.7,241.6 L786.1,241.9 L787.0,242.7 L787.8,243.3 L788.2,243.8 L788.7,244.5 L789.5,245.8 L790.3,246.8 L791.0,247.8 L791.2,248.1 L792.0,249.7 L792.9,250.8 L793.4,251.6 L793.7,252.1 L794.5,254.8 L795.4,256.2 L795.5,256.4 L796.2,256.4 L797.1,257.7 L797.9,259.1 L798.0,259.7 L798.7,259.8 L799.6,260.6 L800.4,261.4 L801.0,261.9 L801.3,262.6 L802.1,263.4 L802.9,264.1 L803.7,263.9 L803.8,263.9 L804.6,263.6 L805.5,263.3 L806.2,263.2 L806.3,263.2 L807.1,263.2 L808.0,263.1 L808.0,263.5 L808.8,263.9 L809.7,264.3 L810.3,264.6 L810.5,264.7 L811.4,264.4 L811.4,213.1 L67.1,213.1Z" fill="#d99694"/>
<rect x="592" y="230" width="1.5" height="39" fill="#d99694"/>
<path d="M67.1,201.3 L67.3,201.2 L67.9,199.8 L68.8,199.7 L68.8,199.7 L69.6,199.6 L70.5,199.3 L71.3,199.0 L72.1,198.0 L72.7,198.3 L73.0,195.8 L73.8,198.0 L74.7,197.7 L75.3,196.5 L75.5,198.0 L76.3,197.8 L77.0,197.3 L77.2,197.3 L78.0,197.4 L78.9,196.8 L79.7,197.2 L80.4,197.2 L80.5,197.3 L81.2,197.7 L81.4,197.3 L82.2,197.4 L83.1,194.3 L83.8,196.9 L83.9,198.0 L84.7,198.1 L85.6,197.9 L86.3,198.0 L86.4,197.0 L87.3,198.8 L88.1,198.8 L88.8,198.8 L88.9,198.0 L89.8,198.0 L90.6,197.7 L91.4,199.0 L91.5,199.0 L92.3,199.1 L93.0,197.9 L93.1,197.2 L94.0,197.8 L94.8,197.8 L95.0,197.8 L95.7,197.0 L96.5,197.4 L97.3,197.8 L98.2,200.0 L99.0,200.4 L99.9,200.7 L99.9,199.9 L100.7,200.1 L101.5,200.5 L102.4,200.9 L102.4,201.9 L103.2,202.2 L104.1,202.6 L104.9,200.8 L105.0,200.7 L105.7,201.6 L106.6,199.9 L107.4,200.4 L107.9,199.9 L108.3,199.7 L109.1,199.4 L109.9,200.6 L110.8,200.4 L110.9,200.4 L111.6,199.0 L112.5,198.7 L113.3,199.1 L113.5,198.4 L114.1,198.2 L115.0,198.0 L115.8,198.1 L116.7,197.1 L117.5,196.9 L117.7,196.8 L118.3,196.1 L119.2,195.8 L120.0,195.5 L120.9,197.2 L121.7,198.9 L121.9,200.5 L122.5,201.8 L123.4,203.5 L124.2,206.2 L125.1,206.2 L125.3,205.9 L125.9,206.5 L126.7,207.2 L127.6,209.3 L127.9,209.6 L128.4,210.1 L129.3,210.0 L130.1,210.7 L130.4,211.0 L130.9,211.4 L131.8,211.7 L132.6,211.9 L133.5,211.9 L133.8,211.8 L134.3,212.0 L135.1,212.1 L136.0,211.7 L136.4,211.7 L136.8,211.7 L137.7,212.7 L138.5,212.3 L138.9,212.3 L139.3,212.3 L140.2,212.8 L141.0,211.0 L141.5,210.5 L141.9,210.1 L142.7,208.4 L143.5,208.5 L143.5,208.5 L144.4,208.6 L145.2,207.9 L146.1,207.9 L146.5,206.7 L146.9,206.7 L147.7,206.6 L148.6,206.3 L149.4,206.2 L149.9,206.0 L150.3,206.0 L151.1,206.0 L151.9,205.9 L152.5,206.3 L152.8,206.3 L153.6,206.2 L154.5,205.7 L155.3,205.6 L156.1,207.1 L157.0,207.0 L157.8,206.0 L158.4,206.0 L158.7,206.2 L159.5,206.9 L160.3,206.8 L161.2,206.8 L161.8,206.8 L162.0,205.8 L162.9,206.1 L163.7,206.2 L163.9,206.2 L164.5,206.2 L165.4,205.6 L166.0,205.6 L166.2,204.7 L167.1,204.7 L167.9,204.6 L168.7,205.9 L169.4,205.9 L169.6,206.0 L170.4,205.8 L171.3,205.1 L172.1,204.7 L172.8,204.4 L172.9,203.6 L173.8,201.2 L174.6,203.1 L175.5,202.7 L176.2,202.1 L176.3,202.1 L177.1,201.7 L178.0,201.4 L178.8,201.9 L179.7,200.4 L180.5,201.9 L181.3,201.9 L182.2,201.3 L183.0,199.8 L183.9,201.1 L184.7,201.2 L185.5,201.1 L186.4,200.7 L187.2,200.6 L187.3,200.6 L188.1,200.2 L188.9,200.1 L189.7,200.4 L189.8,201.7 L190.6,201.5 L191.4,201.2 L192.3,200.2 L193.1,199.3 L193.2,199.3 L193.9,199.1 L194.8,198.8 L195.0,198.7 L195.6,198.3 L196.5,197.4 L196.7,197.3 L197.3,197.5 L198.1,196.9 L199.0,196.3 L199.8,195.6 L200.7,195.7 L201.5,194.9 L201.8,194.9 L202.3,196.1 L203.2,196.3 L204.0,196.5 L204.9,196.2 L205.2,196.2 L205.7,197.4 L206.5,197.5 L207.4,197.7 L208.2,197.1 L208.6,197.2 L209.1,198.1 L209.9,197.0 L210.7,196.9 L211.6,196.6 L212.4,196.6 L212.8,196.4 L213.3,196.7 L214.1,196.4 L214.9,196.1 L215.8,195.5 L216.2,195.5 L216.6,195.8 L217.5,195.4 L218.3,196.7 L219.1,197.2 L220.0,197.7 L220.5,198.0 L220.8,198.0 L221.7,198.5 L222.5,198.9 L223.3,196.4 L224.2,199.2 L225.0,200.7 L225.5,200.8 L225.9,200.9 L226.7,199.9 L227.5,200.1 L228.4,200.3 L229.0,200.2 L229.2,200.2 L230.1,200.2 L230.9,201.0 L231.7,200.9 L232.6,200.6 L233.4,200.6 L234.3,200.4 L234.9,200.4 L235.1,200.4 L235.9,200.9 L236.8,201.3 L237.4,201.3 L237.6,201.4 L238.5,201.8 L239.3,202.0 L240.0,202.3 L240.1,202.7 L241.0,202.7 L241.8,203.0 L242.7,202.8 L243.4,203.1 L243.5,203.3 L244.3,203.6 L245.2,203.9 L246.0,204.2 L246.9,205.4 L247.7,205.4 L248.5,206.1 L248.5,205.7 L249.4,206.5 L250.2,205.5 L251.1,205.2 L251.9,204.6 L252.7,205.7 L252.7,204.5 L253.6,205.4 L254.4,204.6 L255.3,204.9 L256.1,201.6 L256.9,203.5 L257.8,203.1 L257.8,202.8 L258.6,202.4 L259.5,202.0 L260.3,202.1 L261.1,202.2 L262.0,202.2 L262.0,201.9 L262.8,201.9 L263.7,202.2 L264.5,202.2 L264.6,202.2 L265.3,201.6 L266.2,198.5 L267.0,202.4 L267.9,201.4 L268.7,201.4 L268.8,202.3 L269.5,202.3 L270.4,202.4 L271.2,203.1 L272.1,203.2 L272.2,203.5 L272.9,203.6 L273.7,203.8 L274.6,204.3 L275.4,204.4 L275.6,202.7 L276.3,202.8 L277.1,204.1 L277.9,203.5 L278.2,203.4 L278.8,203.2 L279.6,202.6 L280.5,201.8 L281.3,200.2 L282.1,200.3 L283.0,200.9 L283.2,199.1 L283.8,200.2 L284.7,200.5 L285.5,200.5 L286.3,200.5 L286.6,199.5 L287.2,200.2 L288.0,199.3 L288.9,199.3 L289.2,199.5 L289.7,199.5 L290.5,198.9 L291.4,198.1 L292.2,197.8 L292.6,197.4 L293.1,197.0 L293.9,194.8 L294.7,196.6 L295.6,195.1 L296.4,195.1 L296.8,194.9 L297.3,193.2 L298.1,194.8 L298.9,194.4 L299.4,194.1 L299.8,194.0 L300.6,192.7 L301.5,192.5 L301.9,192.3 L302.3,193.3 L303.1,193.1 L304.0,192.8 L304.5,192.1 L304.8,192.0 L305.7,190.2 L306.5,187.3 L307.3,185.4 L307.8,185.1 L308.2,185.4 L309.0,184.8 L309.9,184.8 L310.7,184.8 L311.2,185.2 L311.5,185.5 L312.4,185.1 L313.2,185.7 L314.1,185.9 L314.6,183.9 L314.9,185.3 L315.7,184.5 L316.6,184.8 L317.3,184.1 L317.4,184.0 L318.3,182.6 L319.1,182.5 L319.9,181.7 L320.6,180.6 L320.8,180.3 L321.0,180.0 L321.6,178.5 L322.5,177.4 L323.3,176.1 L324.0,176.1 L324.1,175.9 L324.5,174.3 L325.0,173.6 L325.8,171.3 L326.7,169.6 L326.7,171.8 L327.5,173.7 L328.3,173.4 L329.2,176.4 L329.2,176.5 L330.0,177.1 L330.9,177.5 L331.0,177.6 L331.7,177.5 L331.8,177.6 L332.5,176.0 L333.3,176.8 L333.4,175.4 L334.0,174.9 L334.2,175.3 L335.1,174.6 L335.5,174.9 L335.9,174.3 L336.7,173.9 L337.0,173.7 L337.6,172.5 L338.4,171.9 L339.3,171.3 L340.1,170.8 L340.5,170.0 L340.9,170.1 L341.8,167.5 L342.6,169.3 L342.8,169.2 L343.5,168.2 L344.3,168.8 L344.5,168.9 L345.0,169.1 L345.1,168.6 L346.0,169.0 L346.8,169.4 L347.0,169.8 L347.7,170.2 L348.5,170.6 L349.3,170.4 L349.3,170.8 L350.2,170.2 L350.5,170.9 L351.0,170.7 L351.9,170.4 L352.7,168.9 L353.5,168.6 L353.6,168.5 L354.4,167.8 L354.7,167.6 L355.2,167.8 L356.1,168.7 L356.5,168.8 L356.9,169.3 L357.2,169.4 L357.7,168.8 L358.6,169.1 L359.4,169.4 L359.8,169.9 L360.2,170.4 L360.3,170.9 L361.1,172.0 L361.9,172.6 L362.8,173.5 L363.6,175.4 L363.8,175.6 L364.0,175.4 L364.5,176.0 L365.3,177.2 L366.1,177.4 L367.0,177.1 L367.4,176.7 L367.8,174.6 L368.2,176.1 L368.7,174.9 L369.5,174.1 L370.3,173.8 L371.0,173.6 L371.2,173.9 L371.7,174.8 L372.0,174.4 L372.9,175.8 L373.7,179.0 L374.0,179.6 L374.5,180.3 L375.0,180.3 L375.4,180.8 L376.2,182.3 L377.0,183.3 L377.1,182.3 L377.9,183.4 L378.5,184.2 L378.7,185.9 L379.6,185.9 L379.8,186.2 L380.4,186.0 L381.3,185.2 L381.8,183.9 L382.1,184.2 L382.7,183.5 L382.9,183.2 L383.8,182.9 L384.4,183.8 L384.6,184.1 L385.0,185.0 L385.5,185.7 L386.3,186.9 L386.4,186.9 L387.1,187.9 L387.8,188.5 L388.0,189.2 L388.0,188.4 L388.8,189.3 L389.5,187.2 L389.7,189.6 L390.3,189.3 L390.5,189.8 L390.6,189.7 L391.3,187.9 L392.2,189.5 L393.0,189.5 L393.7,189.2 L393.9,189.4 L394.0,189.4 L394.6,190.2 L394.7,188.9 L395.5,190.0 L396.3,191.0 L396.4,192.3 L397.0,192.8 L397.2,193.6 L398.1,193.5 L398.8,194.1 L398.9,193.9 L399.2,194.6 L399.7,193.0 L400.6,195.7 L401.4,195.9 L401.4,195.9 L402.2,195.3 L402.3,195.9 L403.1,192.4 L403.9,194.6 L404.0,194.1 L404.8,193.5 L405.6,193.7 L405.6,193.6 L406.5,193.0 L406.5,192.5 L407.3,191.2 L408.0,190.6 L408.1,190.7 L409.0,192.2 L409.0,192.4 L409.8,192.3 L410.7,193.0 L411.5,193.8 L412.3,194.5 L412.4,194.5 L413.2,194.0 L414.0,195.8 L414.9,195.0 L415.0,195.0 L415.7,195.0 L415.8,194.1 L416.5,191.4 L417.4,194.3 L418.2,194.3 L418.3,195.2 L419.1,195.2 L419.9,195.2 L420.7,196.0 L421.6,195.8 L422.4,196.4 L422.6,196.4 L423.3,195.8 L424.1,196.1 L424.9,196.2 L425.0,196.3 L425.8,197.7 L426.6,197.7 L427.5,198.0 L427.7,198.0 L428.3,197.9 L428.5,198.0 L429.1,198.2 L430.0,199.1 L430.8,199.4 L431.7,198.4 L432.0,198.5 L432.5,199.0 L433.3,199.3 L434.2,199.6 L434.5,200.5 L435.0,200.7 L435.3,201.2 L435.9,201.5 L436.7,200.8 L437.0,201.8 L437.5,200.7 L437.8,201.4 L438.4,201.3 L439.2,201.6 L440.1,198.4 L440.4,202.3 L440.9,202.6 L441.7,203.4 L442.6,203.2 L443.4,203.6 L443.8,203.9 L444.3,204.1 L445.1,204.5 L445.9,205.7 L446.3,205.9 L446.8,206.2 L447.6,205.0 L448.5,205.2 L448.9,203.4 L449.3,206.0 L450.0,206.2 L450.1,206.3 L450.6,206.1 L451.0,206.3 L451.8,208.0 L452.7,208.3 L452.9,208.3 L453.5,208.0 L454.0,207.5 L454.3,207.6 L455.2,207.6 L456.0,207.9 L456.3,209.8 L456.5,209.8 L456.9,208.0 L457.7,208.0 L458.4,208.1 L458.5,208.0 L458.7,206.0 L459.4,208.7 L460.2,209.0 L461.1,208.8 L461.6,208.9 L461.8,208.3 L461.9,208.3 L462.7,208.4 L463.6,208.3 L463.6,208.3 L464.3,209.0 L464.4,208.5 L465.3,207.9 L466.0,208.1 L466.1,207.3 L466.9,207.5 L467.7,209.2 L467.8,209.2 L468.0,209.1 L468.6,209.2 L469.5,208.9 L470.0,209.0 L470.3,209.1 L471.1,209.2 L471.8,209.7 L472.0,209.7 L472.0,209.7 L472.8,210.2 L473.7,210.8 L473.7,211.8 L473.8,210.9 L474.5,212.7 L475.3,212.3 L475.7,212.3 L476.2,212.3 L477.0,213.0 L477.0,213.0 L477.6,213.0 L477.9,213.0 L478.7,211.6 L479.5,213.1 L480.4,212.5 L480.5,212.5 L481.0,212.5 L481.2,212.3 L482.1,212.3 L482.9,212.3 L483.7,212.7 L483.8,212.7 L484.0,212.5 L484.6,212.5 L485.4,212.5 L486.3,212.8 L486.4,212.8 L487.1,213.1 L487.9,213.1 L488.8,213.1 L488.8,213.1 L489.0,213.1 L489.6,213.1 L490.5,213.1 L490.7,212.7 L491.3,213.1 L492.1,213.1 L492.7,212.9 L493.0,212.9 L493.2,212.9 L493.8,211.8 L494.6,211.8 L494.7,211.8 L495.5,213.0 L495.7,213.1 L496.3,213.0 L496.6,213.0 L497.2,211.5 L498.0,210.6 L498.9,209.6 L499.0,210.8 L499.5,207.9 L499.7,209.8 L500.5,208.6 L501.4,208.8 L501.7,208.8 L501.9,207.9 L502.2,207.7 L503.1,207.7 L503.8,206.9 L503.9,206.8 L504.2,206.6 L504.7,206.4 L505.6,206.0 L506.0,206.2 L506.3,206.5 L506.4,206.5 L507.3,206.6 L508.1,206.1 L508.2,206.2 L508.5,205.3 L508.9,205.3 L509.8,207.0 L510.6,207.1 L510.6,207.1 L511.5,206.0 L512.3,206.1 L512.7,207.1 L513.0,207.9 L513.1,206.8 L514.0,206.6 L514.8,206.3 L515.0,205.6 L515.2,205.5 L515.7,205.2 L516.5,204.9 L517.3,206.1 L518.2,206.3 L518.4,206.4 L518.6,206.0 L519.0,206.3 L519.9,207.0 L520.7,208.0 L521.0,208.3 L521.5,208.7 L521.5,209.0 L522.4,209.7 L523.2,209.8 L523.7,210.1 L524.1,210.3 L524.6,210.6 L524.9,210.4 L525.7,211.0 L526.6,211.5 L527.0,210.6 L527.4,211.8 L528.0,212.2 L528.3,212.2 L528.8,213.0 L529.1,213.0 L529.9,213.0 L530.8,212.9 L531.6,213.1 L532.2,213.1 L532.5,213.0 L533.3,213.1 L534.1,211.8 L534.8,213.1 L535.0,213.1 L535.0,212.6 L535.8,212.9 L536.0,212.2 L536.5,213.1 L536.7,213.1 L537.5,213.1 L538.0,213.1 L538.3,213.1 L539.2,213.1 L540.0,213.1 L540.3,210.3 L540.7,213.1 L540.9,213.1 L541.7,213.1 L541.8,213.1 L542.0,212.9 L542.5,213.1 L543.4,213.1 L543.7,212.0 L544.2,211.9 L545.1,211.8 L545.8,212.8 L545.9,212.8 L546.7,212.7 L547.6,212.5 L547.6,212.5 L548.3,212.4 L548.4,211.4 L549.3,211.3 L550.0,211.3 L550.1,212.9 L550.9,210.5 L551.7,211.6 L551.8,212.3 L552.4,212.0 L552.6,211.9 L553.5,210.9 L554.2,211.4 L554.3,211.5 L555.1,209.9 L556.0,209.5 L556.0,209.1 L556.8,209.5 L557.7,210.3 L557.7,210.3 L558.5,210.5 L559.0,209.9 L559.3,210.0 L560.2,210.1 L561.0,210.3 L561.0,210.3 L561.5,211.0 L561.9,209.3 L562.7,210.7 L562.9,210.8 L563.5,210.5 L564.4,210.0 L564.8,210.7 L565.2,210.4 L565.8,210.0 L566.1,209.3 L566.9,208.7 L567.7,208.1 L568.2,207.6 L568.6,207.4 L569.4,207.3 L569.7,207.7 L570.2,207.7 L570.3,207.7 L571.1,207.1 L571.8,207.9 L571.9,207.9 L572.0,207.9 L572.8,207.5 L573.6,207.5 L573.6,207.7 L574.5,207.7 L574.5,207.5 L575.3,205.6 L576.0,207.5 L576.1,208.4 L577.0,208.4 L577.8,208.1 L578.4,207.3 L578.7,207.2 L579.4,207.3 L579.5,207.3 L580.3,206.9 L580.9,206.7 L581.2,205.9 L582.0,204.1 L582.9,205.3 L583.3,205.9 L583.5,205.8 L583.7,205.7 L584.5,205.2 L585.4,204.8 L585.7,204.6 L586.2,204.4 L587.1,203.9 L587.4,203.4 L587.9,203.1 L588.0,203.1 L588.7,203.4 L589.1,204.0 L589.6,204.1 L590.4,202.6 L591.0,203.4 L591.3,203.5 L592.0,203.1 L592.1,203.1 L592.9,203.9 L593.0,203.9 L593.8,203.8 L594.6,204.6 L594.6,204.6 L594.9,204.7 L595.5,203.0 L596.3,204.7 L596.6,204.9 L597.1,204.9 L597.3,205.4 L598.0,203.4 L598.8,205.4 L598.8,205.5 L599.7,205.7 L600.5,205.9 L601.3,206.8 L601.7,207.6 L602.2,203.0 L603.0,205.3 L603.9,205.4 L604.0,206.8 L604.7,206.6 L605.5,206.4 L606.4,206.5 L606.5,206.5 L607.0,206.4 L607.2,206.1 L608.1,205.9 L608.5,205.6 L608.9,205.0 L609.7,204.8 L610.4,204.8 L610.6,205.7 L611.4,205.5 L612.3,205.5 L612.4,204.9 L613.1,204.7 L613.9,204.5 L614.3,203.9 L614.8,204.3 L615.6,204.1 L616.3,203.8 L616.5,203.7 L617.2,204.0 L617.3,203.7 L618.1,203.5 L619.0,203.3 L619.2,202.9 L619.8,203.1 L620.6,201.8 L620.7,201.7 L620.9,201.5 L621.5,202.0 L622.3,201.1 L623.0,200.7 L623.2,200.1 L624.0,197.4 L624.9,193.5 L624.9,193.4 L625.0,193.9 L625.7,191.7 L626.5,190.5 L626.6,190.5 L627.4,191.2 L628.2,190.7 L628.3,190.7 L629.1,189.6 L629.9,189.2 L630.0,189.8 L630.7,186.4 L631.6,188.2 L632.4,187.8 L633.3,187.2 L633.4,187.2 L634.1,186.9 L634.9,187.6 L635.8,188.0 L636.6,188.3 L636.8,188.4 L637.5,188.7 L638.3,189.4 L639.1,189.8 L639.3,189.5 L640.0,189.3 L640.8,190.0 L641.7,189.8 L642.5,189.7 L643.0,189.7 L643.3,188.8 L644.2,188.7 L645.0,188.0 L645.2,188.0 L645.9,189.0 L646.7,186.8 L647.5,188.7 L648.4,188.8 L648.6,188.8 L649.2,188.7 L650.1,188.1 L650.9,188.3 L651.2,187.7 L651.7,187.9 L652.6,188.1 L653.4,189.1 L653.4,189.8 L654.3,188.2 L655.1,189.7 L655.9,189.5 L656.3,189.3 L656.8,189.4 L657.6,190.3 L658.5,190.6 L659.3,189.8 L659.7,190.8 L660.1,191.3 L661.0,191.3 L661.8,190.7 L662.7,190.1 L663.0,190.1 L663.5,189.6 L664.3,189.6 L665.2,189.6 L666.0,189.9 L666.9,189.9 L667.3,189.6 L667.7,189.6 L668.5,191.5 L669.4,190.5 L669.8,190.5 L670.2,190.7 L671.1,190.8 L671.9,191.3 L672.7,191.8 L673.2,191.9 L673.6,192.2 L674.4,192.7 L675.3,193.3 L676.1,193.8 L676.6,194.5 L676.9,194.7 L677.8,195.2 L678.6,194.9 L679.2,194.6 L679.5,196.2 L680.3,194.5 L681.1,194.2 L681.7,193.9 L682.0,194.4 L682.8,194.1 L683.7,193.7 L684.3,194.1 L684.5,193.9 L685.3,193.6 L686.2,192.3 L687.0,192.4 L687.7,192.1 L687.9,192.0 L688.7,191.9 L689.5,191.6 L690.2,191.6 L690.4,191.5 L691.2,191.1 L692.1,191.3 L692.6,191.3 L692.9,192.2 L693.7,192.5 L694.6,192.8 L695.2,192.0 L695.4,193.3 L696.3,192.2 L697.1,191.8 L697.9,190.7 L698.2,191.0 L698.8,190.7 L699.6,190.2 L700.5,190.0 L701.3,189.5 L701.5,190.0 L702.1,190.1 L703.0,190.2 L703.8,189.0 L704.7,189.1 L704.7,188.9 L705.5,189.0 L706.3,190.4 L706.7,190.4 L707.2,190.5 L708.0,190.3 L708.8,190.6 L708.9,190.8 L709.7,190.9 L710.5,191.0 L711.3,190.7 L711.4,190.7 L712.2,190.8 L713.1,191.5 L713.9,190.6 L714.7,191.0 L714.9,190.4 L715.6,189.8 L716.4,188.9 L717.0,189.3 L717.3,189.1 L718.1,187.0 L718.9,186.2 L719.8,186.0 L720.3,185.5 L720.6,185.2 L721.5,185.7 L722.3,185.8 L722.7,186.3 L723.1,186.3 L724.0,186.4 L724.8,185.6 L725.2,185.9 L725.7,186.0 L726.5,185.4 L727.3,185.5 L728.2,187.3 L729.0,186.7 L729.3,186.5 L729.9,185.0 L730.7,184.5 L731.5,183.9 L731.7,184.0 L732.4,183.4 L733.2,182.8 L734.1,182.3 L734.2,182.2 L734.9,181.5 L735.7,180.4 L736.6,180.5 L736.6,181.0 L737.4,180.8 L738.3,181.6 L739.0,177.7 L739.1,180.7 L739.9,180.8 L740.8,181.1 L741.6,181.2 L742.4,181.3 L742.5,182.0 L743.3,182.2 L744.1,179.5 L745.0,182.8 L745.8,182.5 L746.5,183.0 L746.7,183.2 L747.5,183.4 L748.3,184.1 L748.6,184.6 L749.2,184.9 L750.0,185.6 L750.9,187.3 L750.9,186.8 L751.7,186.8 L752.5,186.8 L753.0,187.0 L753.4,187.0 L754.2,187.0 L755.1,186.5 L755.5,186.5 L755.9,186.1 L756.7,186.3 L757.6,186.5 L757.9,187.5 L758.4,187.7 L759.3,188.1 L760.1,188.3 L760.4,188.4 L760.9,188.0 L761.8,188.2 L762.6,187.4 L762.8,187.3 L763.5,186.8 L764.3,186.8 L764.5,186.7 L765.1,185.4 L765.6,185.3 L766.0,185.3 L766.3,185.9 L766.8,185.1 L767.7,185.0 L767.7,183.1 L768.5,185.8 L769.3,185.7 L770.2,185.7 L770.5,185.7 L771.0,186.5 L771.9,186.5 L772.7,186.5 L773.0,185.3 L773.5,185.3 L774.4,185.3 L775.2,185.5 L775.4,184.8 L776.1,184.7 L776.9,184.2 L777.7,184.1 L778.4,184.1 L778.6,185.3 L779.4,184.3 L780.3,185.4 L780.8,185.5 L781.1,185.5 L781.9,185.5 L782.8,184.9 L783.0,185.0 L783.6,185.2 L784.5,186.6 L785.3,186.9 L785.7,186.2 L786.1,186.4 L787.0,187.2 L787.8,186.7 L788.2,187.5 L788.7,186.5 L789.5,186.5 L790.3,186.5 L791.0,187.3 L791.2,187.3 L792.0,186.7 L792.9,186.7 L793.4,186.7 L793.7,186.9 L794.5,184.4 L795.4,186.9 L795.5,187.3 L796.2,187.3 L797.1,187.0 L797.9,187.0 L798.0,187.0 L798.7,186.8 L799.6,187.1 L800.4,187.1 L801.0,187.0 L801.3,187.0 L802.1,186.9 L802.9,185.7 L803.7,186.7 L803.8,186.7 L804.6,186.6 L805.5,185.5 L806.2,183.3 L806.3,185.9 L807.1,184.6 L808.0,184.3 L808.0,185.8 L808.8,184.6 L809.7,184.3 L810.3,184.2 L810.5,184.1 L811.4,184.5 L811.4,213.1 L67.1,213.1Z" fill="#95b3d7"/>
<line x1="67.1" y1="213.1" x2="811.4" y2="213.1" stroke="#e2e2e2" stroke-width="1.1"/>
<path d="M67.1,293.9 L67.3,293.0 L67.9,297.2 L68.8,302.4 L68.8,303.0 L69.6,298.8 L70.5,293.8 L71.3,289.0 L72.1,284.3 L72.7,281.0 L73.0,281.1 L73.8,281.9 L74.7,282.0 L75.3,283.0 L75.5,280.9 L76.3,276.6 L77.0,273.5 L77.2,273.4 L78.0,273.6 L78.9,273.4 L79.7,273.0 L80.4,273.5 L80.5,271.6 L81.2,269.0 L81.4,268.9 L82.2,268.8 L83.1,268.1 L83.8,267.6 L83.9,266.4 L84.7,263.5 L85.6,261.1 L86.3,259.0 L86.4,259.2 L87.3,258.8 L88.1,258.1 L88.8,257.4 L88.9,257.0 L89.8,257.3 L90.6,257.4 L91.4,258.0 L91.5,257.2 L92.3,255.7 L93.0,254.0 L93.1,254.7 L94.0,257.8 L94.8,260.7 L95.0,261.0 L95.7,258.3 L96.5,255.3 L97.3,252.1 L98.2,249.0 L99.0,246.1 L99.9,243.1 L99.9,243.0 L100.7,243.3 L101.5,244.8 L102.4,246.2 L102.4,245.5 L103.2,243.6 L104.1,240.8 L104.9,238.1 L105.0,237.0 L105.7,241.1 L106.6,245.3 L107.4,250.0 L107.9,253.0 L108.3,252.1 L109.1,249.3 L109.9,246.3 L110.8,243.3 L110.9,242.0 L111.6,241.4 L112.5,238.6 L113.3,236.7 L113.5,236.0 L114.1,237.5 L115.0,238.9 L115.8,241.8 L116.7,244.5 L117.5,247.1 L117.7,248.0 L118.3,246.0 L119.2,243.0 L120.0,239.9 L120.9,236.9 L121.7,234.8 L121.9,233.7 L122.5,232.5 L123.4,230.3 L124.2,228.6 L125.1,227.0 L125.3,226.0 L125.9,227.0 L126.7,227.6 L127.6,228.6 L127.9,229.4 L128.4,228.3 L129.3,227.4 L130.1,227.1 L130.4,226.0 L130.9,226.9 L131.8,226.9 L132.6,227.7 L133.5,228.4 L133.8,228.6 L134.3,230.2 L135.1,232.1 L136.0,233.3 L136.4,233.7 L136.8,233.5 L137.7,232.8 L138.5,232.5 L138.9,232.8 L139.3,233.4 L140.2,231.9 L141.0,229.4 L141.5,229.4 L141.9,232.6 L142.7,243.0 L143.5,252.3 L143.5,252.5 L144.4,253.5 L145.2,254.2 L146.1,255.4 L146.5,255.7 L146.9,257.0 L147.7,260.9 L148.6,265.0 L149.4,268.4 L149.9,271.0 L150.3,271.5 L151.1,274.9 L151.9,278.4 L152.5,280.3 L152.8,280.8 L153.6,281.0 L154.5,281.5 L155.3,281.4 L156.1,281.8 L157.0,282.6 L157.8,283.5 L158.4,283.7 L158.7,283.3 L159.5,283.1 L160.3,282.8 L161.2,283.1 L161.8,282.9 L162.0,282.4 L162.9,277.2 L163.7,272.0 L163.9,271.8 L164.5,273.5 L165.4,276.9 L166.0,279.5 L166.2,277.7 L167.1,273.7 L167.9,269.9 L168.7,266.9 L169.4,264.2 L169.6,264.9 L170.4,265.1 L171.3,265.1 L172.1,264.5 L172.8,264.2 L172.9,264.1 L173.8,261.4 L174.6,259.6 L175.5,258.0 L176.2,256.6 L176.3,257.0 L177.1,259.0 L178.0,260.9 L178.8,263.2 L179.7,266.0 L180.5,267.6 L181.3,267.1 L182.2,266.1 L183.0,265.2 L183.9,264.6 L184.7,263.4 L185.5,264.7 L186.4,264.7 L187.2,264.9 L187.3,264.2 L188.1,262.4 L188.9,260.6 L189.7,259.2 L189.8,259.0 L190.6,260.0 L191.4,261.0 L192.3,262.3 L193.1,263.8 L193.2,264.2 L193.9,266.7 L194.8,270.1 L195.0,271.0 L195.6,277.5 L196.5,285.2 L196.7,288.0 L197.3,287.1 L198.1,287.0 L199.0,287.5 L199.8,288.4 L200.7,289.4 L201.5,289.9 L201.8,289.7 L202.3,288.3 L203.2,285.3 L204.0,282.0 L204.9,279.2 L205.2,278.6 L205.7,280.0 L206.5,281.1 L207.4,281.7 L208.2,283.4 L208.6,284.6 L209.1,284.7 L209.9,283.5 L210.7,282.3 L211.6,281.4 L212.4,280.9 L212.8,280.3 L213.3,279.6 L214.1,276.6 L214.9,273.6 L215.8,271.2 L216.2,270.0 L216.6,269.5 L217.5,268.4 L218.3,267.2 L219.1,265.8 L220.0,264.5 L220.5,264.2 L220.8,265.0 L221.7,266.0 L222.5,267.1 L223.3,268.3 L224.2,269.8 L225.0,271.1 L225.5,271.8 L225.9,273.0 L226.7,275.8 L227.5,278.0 L228.4,280.2 L229.0,282.0 L229.2,282.0 L230.1,282.0 L230.9,282.5 L231.7,282.8 L232.6,282.7 L233.4,282.2 L234.3,282.3 L234.9,282.9 L235.1,281.9 L235.9,278.6 L236.8,275.6 L237.4,273.5 L237.6,273.7 L238.5,272.8 L239.3,271.7 L240.0,270.0 L240.1,270.8 L241.0,271.7 L241.8,272.4 L242.7,273.3 L243.4,274.4 L243.5,274.3 L244.3,273.8 L245.2,273.4 L246.0,272.5 L246.9,271.3 L247.7,269.7 L248.5,268.5 L248.5,267.6 L249.4,265.4 L250.2,263.7 L251.1,261.8 L251.9,259.3 L252.7,255.7 L252.7,256.6 L253.6,258.5 L254.4,260.3 L255.3,262.1 L256.1,264.4 L256.9,266.0 L257.8,267.1 L257.8,267.6 L258.6,266.8 L259.5,267.2 L260.3,266.5 L261.1,265.8 L262.0,264.9 L262.0,265.0 L262.8,263.4 L263.7,261.5 L264.5,259.9 L264.6,260.0 L265.3,260.7 L266.2,262.0 L267.0,263.9 L267.9,265.0 L268.7,266.3 L268.8,266.8 L269.5,265.2 L270.4,263.2 L271.2,262.3 L272.1,260.9 L272.2,260.0 L272.9,257.8 L273.7,254.9 L274.6,251.4 L275.4,248.4 L275.6,248.0 L276.3,246.3 L277.1,244.8 L277.9,243.7 L278.2,243.0 L278.8,243.0 L279.6,242.3 L280.5,241.4 L281.3,240.8 L282.1,240.3 L283.0,240.0 L283.2,239.6 L283.8,238.2 L284.7,236.2 L285.5,234.3 L286.3,232.6 L286.6,232.0 L287.2,232.7 L288.0,234.0 L288.9,235.5 L289.2,235.4 L289.7,233.2 L290.5,229.9 L291.4,227.1 L292.2,224.3 L292.6,222.6 L293.1,223.2 L293.9,222.5 L294.7,221.8 L295.6,221.8 L296.4,222.4 L296.8,222.6 L297.3,225.1 L298.1,230.3 L298.9,235.8 L299.4,238.8 L299.8,239.9 L300.6,241.9 L301.5,244.0 L301.9,243.8 L302.3,246.4 L303.1,250.7 L304.0,255.3 L304.5,258.3 L304.8,256.2 L305.7,252.3 L306.5,248.5 L307.3,245.3 L307.8,243.0 L308.2,242.4 L309.0,239.9 L309.9,238.0 L310.7,236.2 L311.2,235.4 L311.5,235.4 L312.4,235.5 L313.2,235.5 L314.1,235.3 L314.6,234.5 L314.9,236.2 L315.7,238.8 L316.6,241.8 L317.3,244.2 L317.4,244.6 L318.3,247.3 L319.1,249.9 L319.9,252.4 L320.6,254.9 L320.8,254.0 L321.0,253.6 L321.6,251.3 L322.5,247.8 L323.3,244.2 L324.0,242.2 L324.1,243.2 L324.5,245.9 L325.0,249.2 L325.8,254.3 L326.7,260.0 L326.7,261.0 L327.5,267.4 L328.3,273.7 L329.2,280.3 L329.2,281.0 L330.0,289.7 L330.9,298.0 L331.0,299.0 L331.7,302.5 L331.8,303.2 L332.5,306.9 L333.3,311.5 L333.4,311.2 L334.0,308.0 L334.2,306.3 L335.1,301.5 L335.5,299.0 L335.9,296.2 L336.7,289.8 L337.0,288.0 L337.6,288.4 L338.4,288.8 L339.3,289.2 L340.1,289.8 L340.5,290.4 L340.9,287.6 L341.8,283.9 L342.6,280.6 L342.8,279.7 L343.5,278.0 L344.3,275.8 L344.5,277.0 L345.0,276.5 L345.1,277.1 L346.0,275.8 L346.8,274.1 L347.0,273.7 L347.7,273.3 L348.5,272.7 L349.3,271.7 L349.3,271.4 L350.2,270.9 L350.5,270.3 L351.0,270.0 L351.9,270.7 L352.7,272.1 L353.5,272.4 L353.6,272.0 L354.4,272.6 L354.7,272.9 L355.2,271.5 L356.1,268.9 L356.5,267.8 L356.9,267.1 L357.2,266.0 L357.7,269.1 L358.6,273.5 L359.4,277.4 L359.8,279.0 L360.2,276.5 L360.3,276.3 L361.1,273.6 L361.9,272.0 L362.8,269.5 L363.6,266.5 L363.8,265.5 L364.0,264.4 L364.5,265.0 L365.3,265.9 L366.1,267.0 L367.0,268.3 L367.4,267.8 L367.8,266.6 L368.2,264.4 L368.7,262.3 L369.5,259.3 L370.3,266.0 L371.0,271.4 L371.2,272.7 L371.7,277.0 L372.0,277.0 L372.9,275.5 L373.7,273.1 L374.0,271.9 L374.5,270.6 L375.0,270.3 L375.4,267.7 L376.2,263.7 L377.0,260.1 L377.1,260.1 L377.9,255.6 L378.5,252.5 L378.7,252.7 L379.6,252.5 L379.8,252.0 L380.4,251.7 L381.3,251.3 L381.8,250.0 L382.1,250.9 L382.7,252.4 L382.9,252.9 L383.8,255.2 L384.4,256.8 L384.6,255.7 L385.0,254.0 L385.5,252.7 L386.3,249.3 L386.4,248.5 L387.1,245.7 L387.8,243.2 L388.0,243.5 L388.0,243.2 L388.8,241.5 L389.5,240.0 L389.7,239.7 L390.3,239.0 L390.5,238.7 L390.6,238.3 L391.3,239.6 L392.2,242.0 L393.0,243.8 L393.7,244.9 L393.9,243.1 L394.0,241.7 L394.6,236.4 L394.7,235.9 L395.5,228.6 L396.3,222.0 L396.4,220.7 L397.0,214.3 L397.2,212.2 L398.1,203.1 L398.8,195.3 L398.9,195.8 L399.2,197.2 L399.7,200.0 L400.6,203.9 L401.4,207.3 L401.4,206.5 L402.2,209.8 L402.3,209.5 L403.1,209.0 L403.9,207.6 L404.0,207.4 L404.8,206.5 L405.6,205.5 L405.6,206.2 L406.5,210.8 L406.5,210.9 L407.3,215.3 L408.0,219.0 L408.1,218.8 L409.0,218.8 L409.0,219.1 L409.8,218.8 L410.7,217.7 L411.5,217.5 L412.3,214.1 L412.4,213.8 L413.2,210.3 L414.0,206.9 L414.9,203.4 L415.0,202.9 L415.7,200.3 L415.8,200.4 L416.5,205.1 L417.4,210.6 L418.2,216.3 L418.3,217.4 L419.1,215.0 L419.9,212.7 L420.7,210.4 L421.6,208.5 L422.4,206.4 L422.6,205.5 L423.3,205.8 L424.1,205.2 L424.9,204.9 L425.0,204.5 L425.8,202.0 L426.6,198.7 L427.5,195.5 L427.7,195.0 L428.3,193.1 L428.5,192.0 L429.1,190.9 L430.0,190.1 L430.8,189.7 L431.7,189.5 L432.0,189.4 L432.5,192.7 L433.3,197.3 L434.2,201.5 L434.5,203.0 L435.0,205.9 L435.3,207.0 L435.9,209.1 L436.7,212.9 L437.0,215.0 L437.5,213.1 L437.8,212.6 L438.4,210.9 L439.2,207.5 L440.1,204.1 L440.4,203.8 L440.9,203.7 L441.7,205.5 L442.6,206.7 L443.4,207.9 L443.8,209.8 L444.3,211.1 L445.1,214.5 L445.9,217.5 L446.3,219.0 L446.8,217.8 L447.6,216.1 L448.5,214.1 L448.9,213.0 L449.3,211.5 L450.0,210.2 L450.1,210.2 L450.6,208.9 L451.0,208.0 L451.8,204.6 L452.7,200.9 L452.9,199.9 L453.5,198.2 L454.0,196.2 L454.3,195.1 L455.2,192.5 L456.0,190.6 L456.3,189.3 L456.5,189.0 L456.9,188.7 L457.7,188.2 L458.4,187.5 L458.5,187.9 L458.7,187.9 L459.4,186.8 L460.2,186.0 L461.1,185.1 L461.6,185.0 L461.8,185.0 L461.9,185.7 L462.7,185.7 L463.6,185.5 L463.6,185.3 L464.3,186.5 L464.4,186.0 L465.3,183.6 L466.0,181.6 L466.1,181.9 L466.9,185.7 L467.7,188.4 L467.8,188.1 L468.0,186.9 L468.6,183.5 L469.5,178.6 L470.0,176.0 L470.3,174.0 L471.1,170.5 L471.8,167.2 L472.0,166.7 L472.0,166.3 L472.8,174.4 L473.7,182.2 L473.7,182.4 L473.8,182.3 L474.5,181.1 L475.3,179.0 L475.7,178.0 L476.2,177.4 L477.0,175.6 L477.0,176.2 L477.6,174.3 L477.9,173.5 L478.7,172.2 L479.5,171.4 L480.4,169.4 L480.5,168.8 L481.0,168.3 L481.2,168.3 L482.1,167.8 L482.9,167.5 L483.7,167.4 L483.8,168.0 L484.0,169.0 L484.6,171.6 L485.4,174.9 L486.3,178.4 L486.4,179.0 L487.1,178.4 L487.9,177.3 L488.8,176.2 L488.8,175.6 L489.0,175.6 L489.6,176.6 L490.5,178.3 L490.7,178.6 L491.3,179.8 L492.1,181.2 L492.7,182.2 L493.0,182.5 L493.2,183.3 L493.8,180.5 L494.6,177.6 L494.7,177.4 L495.5,173.8 L495.7,174.0 L496.3,174.4 L496.6,174.8 L497.2,174.9 L498.0,175.9 L498.9,176.7 L499.0,176.5 L499.5,178.5 L499.7,179.5 L500.5,184.1 L501.4,188.3 L501.7,190.0 L501.9,188.9 L502.2,186.3 L503.1,179.7 L503.8,174.6 L503.9,173.9 L504.2,170.5 L504.7,168.5 L505.6,165.2 L506.0,163.0 L506.3,161.4 L506.4,161.2 L507.3,158.7 L508.1,155.7 L508.2,155.4 L508.5,154.0 L508.9,154.0 L509.8,151.4 L510.6,149.2 L510.6,149.4 L511.5,147.4 L512.3,144.8 L512.7,144.6 L513.0,141.3 L513.1,140.6 L514.0,132.8 L514.8,124.7 L515.0,122.9 L515.2,120.8 L515.7,120.1 L516.5,116.8 L517.3,113.1 L518.2,108.6 L518.4,107.8 L518.6,106.4 L519.0,111.7 L519.9,120.8 L520.7,130.1 L521.0,133.3 L521.5,139.5 L521.5,138.3 L522.4,130.1 L523.2,122.0 L523.7,116.6 L524.1,116.8 L524.6,115.7 L524.9,115.1 L525.7,114.0 L526.6,113.2 L527.0,113.2 L527.4,109.1 L528.0,103.8 L528.3,101.4 L528.8,96.2 L529.1,95.5 L529.9,93.9 L530.8,92.7 L531.6,91.2 L532.2,88.6 L532.5,89.9 L533.3,93.2 L534.1,96.9 L534.8,98.8 L535.0,102.2 L535.0,102.4 L535.8,113.4 L536.0,115.2 L536.5,122.5 L536.7,124.8 L537.5,136.4 L538.0,143.0 L538.3,141.6 L539.2,139.0 L540.0,136.8 L540.3,136.0 L540.7,134.4 L540.9,136.9 L541.7,146.2 L541.8,147.0 L542.0,150.4 L542.5,158.6 L543.4,170.8 L543.7,174.8 L544.2,168.6 L545.1,159.0 L545.8,151.5 L545.9,151.8 L546.7,155.2 L547.6,158.3 L547.6,158.0 L548.3,160.4 L548.4,160.4 L549.3,161.1 L550.0,161.6 L550.1,161.5 L550.9,161.4 L551.7,162.0 L551.8,162.0 L552.4,168.2 L552.6,170.8 L553.5,179.0 L554.2,186.3 L554.3,186.7 L555.1,182.5 L556.0,178.2 L556.0,178.3 L556.8,173.5 L557.7,168.9 L557.7,169.7 L558.5,168.8 L559.0,168.5 L559.3,167.8 L560.2,166.9 L561.0,166.3 L561.0,166.6 L561.5,167.8 L561.9,169.1 L562.7,171.8 L562.9,172.0 L563.5,173.6 L564.4,176.4 L564.8,177.8 L565.2,177.7 L565.8,176.7 L566.1,176.2 L566.9,175.4 L567.7,175.1 L568.2,174.4 L568.6,174.0 L569.4,174.0 L569.7,174.0 L570.2,172.7 L570.3,171.9 L571.1,168.7 L571.8,166.5 L571.9,166.1 L572.0,166.4 L572.8,166.4 L573.6,167.0 L573.6,167.2 L574.5,166.7 L574.5,166.7 L575.3,168.7 L576.0,170.9 L576.1,171.6 L577.0,173.9 L577.8,176.7 L578.4,178.0 L578.7,178.4 L579.4,180.7 L579.5,181.0 L580.3,185.9 L580.9,188.7 L581.2,190.0 L582.0,194.4 L582.9,199.0 L583.3,201.3 L583.5,202.8 L583.7,201.5 L584.5,195.0 L585.4,187.9 L585.7,186.0 L586.2,185.8 L587.1,186.8 L587.4,187.1 L587.9,187.7 L588.0,187.5 L588.7,186.0 L589.1,185.4 L589.6,184.1 L590.4,181.1 L591.0,179.0 L591.3,178.2 L592.0,176.9 L592.1,177.3 L592.9,176.4 L593.0,176.0 L593.8,170.8 L594.6,165.0 L594.6,164.7 L594.9,166.2 L595.5,169.2 L596.3,173.8 L596.6,175.5 L597.1,176.4 L597.3,176.7 L598.0,177.8 L598.8,177.8 L598.8,178.2 L599.7,177.7 L600.5,177.1 L601.3,177.4 L601.7,178.5 L602.2,179.1 L603.0,181.6 L603.9,184.9 L604.0,186.6 L604.7,186.9 L605.5,187.3 L606.4,187.6 L606.5,187.9 L607.0,188.5 L607.2,186.7 L608.1,181.3 L608.5,178.8 L608.9,176.5 L609.7,173.2 L610.4,170.7 L610.6,171.6 L611.4,172.7 L612.3,173.9 L612.4,174.5 L613.1,176.9 L613.9,180.8 L614.3,183.6 L614.8,185.0 L615.6,188.3 L616.3,192.0 L616.5,194.3 L617.2,207.0 L617.3,206.4 L618.1,203.3 L619.0,200.3 L619.2,198.9 L619.8,197.0 L620.6,194.3 L620.7,194.8 L620.9,195.2 L621.5,196.3 L622.3,198.1 L623.0,199.8 L623.2,200.2 L624.0,201.6 L624.9,203.3 L624.9,203.7 L625.0,204.9 L625.7,211.8 L626.5,219.4 L626.6,219.0 L627.4,236.5 L628.2,254.7 L628.3,256.3 L629.1,247.5 L629.9,237.0 L630.0,235.9 L630.7,235.6 L631.6,236.2 L632.4,236.5 L633.3,236.9 L633.4,236.8 L634.1,235.8 L634.9,234.2 L635.8,232.0 L636.6,230.1 L636.8,230.8 L637.5,234.3 L638.3,238.7 L639.1,242.8 L639.3,242.7 L640.0,246.6 L640.8,251.5 L641.7,256.8 L642.5,262.8 L643.0,266.5 L643.3,263.7 L644.2,257.4 L645.0,250.9 L645.2,249.5 L645.9,248.9 L646.7,249.3 L647.5,249.1 L648.4,249.2 L648.6,249.5 L649.2,246.1 L650.1,241.2 L650.9,237.0 L651.2,235.9 L651.7,234.2 L652.6,231.7 L653.4,230.0 L653.4,230.5 L654.3,232.5 L655.1,234.0 L655.9,235.6 L656.3,237.6 L656.8,239.4 L657.6,244.0 L658.5,248.8 L659.3,253.8 L659.7,256.3 L660.1,256.5 L661.0,258.3 L661.8,259.4 L662.7,260.5 L663.0,261.4 L663.5,261.2 L664.3,260.7 L665.2,260.5 L666.0,260.3 L666.9,260.3 L667.3,260.5 L667.7,261.8 L668.5,264.6 L669.4,267.6 L669.8,268.0 L670.2,266.2 L671.1,262.1 L671.9,258.3 L672.7,254.4 L673.2,252.0 L673.6,252.1 L674.4,251.3 L675.3,250.5 L676.1,250.5 L676.6,250.3 L676.9,249.2 L677.8,244.9 L678.6,240.5 L679.2,237.6 L679.5,236.9 L680.3,236.7 L681.1,236.6 L681.7,236.8 L682.0,237.7 L682.8,242.0 L683.7,246.9 L684.3,250.3 L684.5,250.4 L685.3,251.2 L686.2,252.6 L687.0,253.5 L687.7,253.7 L687.9,253.4 L688.7,254.7 L689.5,256.6 L690.2,259.0 L690.4,259.0 L691.2,255.4 L692.1,251.0 L692.6,248.0 L692.9,247.2 L693.7,246.1 L694.6,244.7 L695.2,244.6 L695.4,245.4 L696.3,249.6 L697.1,253.0 L697.9,255.8 L698.2,256.2 L698.8,257.3 L699.6,260.1 L700.5,263.4 L701.3,266.3 L701.5,266.0 L702.1,268.3 L703.0,270.3 L703.8,272.1 L704.7,274.6 L704.7,274.2 L705.5,277.9 L706.3,280.7 L706.7,282.4 L707.2,279.7 L708.0,274.4 L708.8,269.5 L708.9,269.6 L709.7,271.7 L710.5,273.5 L711.3,276.0 L711.4,275.9 L712.2,280.7 L713.1,285.0 L713.9,289.2 L714.7,293.5 L714.9,294.6 L715.6,292.8 L716.4,290.2 L717.0,288.0 L717.3,287.7 L718.1,289.1 L718.9,290.8 L719.8,292.2 L720.3,293.0 L720.6,292.2 L721.5,289.6 L722.3,287.3 L722.7,285.6 L723.1,286.9 L724.0,290.1 L724.8,295.0 L725.2,297.0 L725.7,295.3 L726.5,290.7 L727.3,286.7 L728.2,282.7 L729.0,278.8 L729.3,277.5 L729.9,280.1 L730.7,282.6 L731.5,284.8 L731.7,284.8 L732.4,282.6 L733.2,279.8 L734.1,276.9 L734.2,276.6 L734.9,279.6 L735.7,283.3 L736.6,287.0 L736.6,286.5 L737.4,292.2 L738.3,297.1 L739.0,302.0 L739.1,301.7 L739.9,299.6 L740.8,297.4 L741.6,295.4 L742.4,293.8 L742.5,293.6 L743.3,291.6 L744.1,289.3 L745.0,287.0 L745.8,285.0 L746.5,284.0 L746.7,284.8 L747.5,286.9 L748.3,289.2 L748.6,289.7 L749.2,288.8 L750.0,287.3 L750.9,286.1 L750.9,286.5 L751.7,290.4 L752.5,294.9 L753.0,297.0 L753.4,299.2 L754.2,302.6 L755.1,306.6 L755.5,308.2 L755.9,308.7 L756.7,308.4 L757.6,308.1 L757.9,307.0 L758.4,310.2 L759.3,314.2 L760.1,318.5 L760.4,320.0 L760.9,324.5 L761.8,330.7 L762.6,336.5 L762.8,337.5 L763.5,341.3 L764.3,346.1 L764.5,347.4 L765.1,358.0 L765.6,367.0 L766.0,375.4 L766.3,383.5 L766.8,368.3 L767.7,345.3 L767.7,344.0 L768.5,342.2 L769.3,339.5 L770.2,336.7 L770.5,335.0 L771.0,338.2 L771.9,341.9 L772.7,345.7 L773.0,347.4 L773.5,346.1 L774.4,343.2 L775.2,340.0 L775.4,339.2 L776.1,337.6 L776.9,335.0 L777.7,332.7 L778.4,331.0 L778.6,332.1 L779.4,335.5 L780.3,338.8 L780.8,342.5 L781.1,343.8 L781.9,347.7 L782.8,350.9 L783.0,352.3 L783.6,351.3 L784.5,349.9 L785.3,348.2 L785.7,347.4 L786.1,349.7 L787.0,354.5 L787.8,359.2 L788.2,360.5 L788.7,362.6 L789.5,366.9 L790.3,371.7 L791.0,374.4 L791.2,374.0 L792.0,366.9 L792.9,359.7 L793.4,354.7 L793.7,354.9 L794.5,354.3 L795.4,353.5 L795.5,354.0 L796.2,357.3 L797.1,363.2 L797.9,368.3 L798.0,368.6 L798.7,371.2 L799.6,374.6 L800.4,377.1 L801.0,378.5 L801.3,378.2 L802.1,374.0 L802.9,369.2 L803.7,365.4 L803.8,364.9 L804.6,364.1 L805.5,363.8 L806.2,363.0 L806.3,362.8 L807.1,365.6 L808.0,369.3 L808.0,371.0 L808.8,368.7 L809.7,366.7 L810.3,365.4 L810.5,365.1 L811.4,364.5" fill="none" stroke="#000080" stroke-width="4" stroke-linejoin="round" stroke-linecap="butt"/>
<text x="301.8" y="48" font-size="18px" font-weight="bold" class="tt" textLength="277" lengthAdjust="spacingAndGlyphs" font-family="Liberation Sans, sans-serif">Drivers of returns in MSCI China</text>
<rect x="93.5" y="65" width="22" height="9.6" fill="#b8cce4" stroke="#95b3d7" stroke-width="1"/>
<text x="119" y="74.7" class="lg" textLength="107.5" lengthAdjust="spacingAndGlyphs">Risk-free rate</text>
<rect x="248.5" y="65" width="22" height="9.6" fill="#c0504d" stroke="#d99694" stroke-width="1"/>
<text x="273.2" y="74.7" class="lg" textLength="133.6" lengthAdjust="spacingAndGlyphs">EPS contribution</text>
<rect x="429.5" y="65" width="21.3" height="9.6" fill="#ededed" stroke="#d9d9d9" stroke-width="1"/>
<text x="454" y="74.7" class="lg" textLength="134" lengthAdjust="spacingAndGlyphs">ERP contribution</text>
<line x1="611" y1="69.5" x2="633" y2="69.5" stroke="#000080" stroke-width="3.2" stroke-linecap="round"/>
<text x="635.5" y="74.7" class="lg" textLength="161.5" lengthAdjust="spacingAndGlyphs">Market performance</text>
<text x="51.6" y="63.8" text-anchor="end" class="ax" fill="#000">40%</text>
<text x="51.6" y="141.2" text-anchor="end" class="ax" fill="#000">20%</text>
<text x="51.6" y="218.7" text-anchor="end" class="ax" fill="#000">0%</text>
<text x="51.6" y="296.1" text-anchor="end" class="ax" fill="#f00">-20%</text>
<text x="51.6" y="373.6" text-anchor="end" class="ax" fill="#f00">-40%</text>
<text x="51.6" y="451.0" text-anchor="end" class="ax" fill="#f00">-60%</text>
<text transform="translate(73.8,457.0) rotate(-90)" text-anchor="end" class="ax">Jan 2019</text>
<text transform="translate(128.3,457.0) rotate(-90)" text-anchor="end" class="ax">Apr 2019</text>
<text transform="translate(182.9,457.0) rotate(-90)" text-anchor="end" class="ax">Jul 2019</text>
<text transform="translate(237.4,457.0) rotate(-90)" text-anchor="end" class="ax">Oct 2019</text>
<text transform="translate(292.0,457.0) rotate(-90)" text-anchor="end" class="ax">Jan 2020</text>
<text transform="translate(346.5,457.0) rotate(-90)" text-anchor="end" class="ax">Apr 2020</text>
<text transform="translate(401.1,457.0) rotate(-90)" text-anchor="end" class="ax">Jul 2020</text>
<text transform="translate(455.6,457.0) rotate(-90)" text-anchor="end" class="ax">Oct 2020</text>
<text transform="translate(510.2,457.0) rotate(-90)" text-anchor="end" class="ax">Jan 2021</text>
<text transform="translate(564.8,457.0) rotate(-90)" text-anchor="end" class="ax">Apr 2021</text>
<text transform="translate(619.3,457.0) rotate(-90)" text-anchor="end" class="ax">Jul 2021</text>
<text transform="translate(673.8,457.0) rotate(-90)" text-anchor="end" class="ax">Oct 2021</text>
<text transform="translate(728.4,457.0) rotate(-90)" text-anchor="end" class="ax">Jan 2022</text>
<text transform="translate(782.9,457.0) rotate(-90)" text-anchor="end" class="ax">Apr 2022</text>

<text x="228.2" y="155.5" font-size="18px" font-weight="bold" fill="#4f81bd" textLength="113.7" lengthAdjust="spacingAndGlyphs" font-family="Liberation Sans, sans-serif">Risk-free rate</text>
<g stroke="#4a7ebb" stroke-width="1.2" fill="none" stroke-linecap="round"><path d="M295.1,160.2 L313.4,180.9 M305,178.4 L313.4,180.9 L312.6,172.4"/></g>
<text x="502.6" y="352.5" font-size="18px" font-weight="bold" fill="#7f7f7f" textLength="118.9" lengthAdjust="spacingAndGlyphs" font-family="Liberation Sans, sans-serif">Risk premium</text>
<g stroke="#7f7f7f" stroke-width="1.2" fill="none" stroke-linecap="round"><path d="M605.4,331.1 L630,312.7 M621.9,313.7 L630,312.7 L627.3,320.6"/></g>
<g id="wm">
<defs><filter id="sh" x="-20%" y="-20%" width="140%" height="140%"><feGaussianBlur in="SourceAlpha" stdDeviation="0.8"/><feOffset dx="0.3" dy="0.5"/><feComponentTransfer><feFuncA type="linear" slope="0.7"/></feComponentTransfer><feMerge><feMergeNode/><feMergeNode in="SourceGraphic"/></feMerge></filter></defs>
<g filter="url(#sh)">
<path d="M769,515.6 V514.4 Q769,512.9 767.5,512.9 H753.4 Q751.9,512.9 751.9,514.4 V527.1 Q751.9,528.6 753.4,528.6 H769 V521.4 H759.8 L766.6,528.2" fill="none" stroke="#fff" stroke-width="3" stroke-linejoin="miter"/>
<text x="774" y="527.6" font-size="15px" fill="#fff" font-family="Noto Sans CJK SC, sans-serif" textLength="44.5" lengthAdjust="spacingAndGlyphs">格隆汇</text>
</g></g>
</svg>
</body></html>
